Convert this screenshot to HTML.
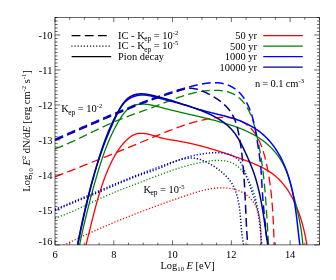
<!DOCTYPE html><html><head><meta charset="utf-8"><title>plot</title><style>html,body{margin:0;padding:0;background:#fff}svg{display:block;will-change:transform}text{font-family:"Liberation Serif",serif;fill:#000}</style></head><body>
<svg width="336" height="280" viewBox="0 0 336 280">
<rect width="336" height="280" fill="#fff"/>
<defs><clipPath id="c"><rect x="55.0" y="17.5" width="264.50" height="227.40"/></clipPath></defs>
<g clip-path="url(#c)" fill="none" stroke-width="1.3" stroke-linejoin="round">
<path d="M85.95 244.98 L86.13 244.31 L86.30 243.63 L86.48 242.96 L86.66 242.28 L86.83 241.61 L87.00 240.93 L87.18 240.25 L87.35 239.58 L87.52 238.90 L87.69 238.22 L87.87 237.54 L88.04 236.87 L88.21 236.19 L88.38 235.51 L88.55 234.83 L88.72 234.15 L88.89 233.47 L89.06 232.79 L89.23 232.11 L89.39 231.43 L89.56 230.75 L89.73 230.07 L89.90 229.39 L90.07 228.71 L90.24 228.03 L90.40 227.35 L90.57 226.66 L90.74 225.98 L90.91 225.30 L91.08 224.62 L91.25 223.94 L91.41 223.26 L91.58 222.58 L91.75 221.90 L91.92 221.21 L92.09 220.53 L92.26 219.85 L92.43 219.17 L92.60 218.49 L92.77 217.81 L92.94 217.13 L93.11 216.45 L93.29 215.77 L93.46 215.09 L93.63 214.40 L93.81 213.72 L93.98 213.04 L94.15 212.36 L94.33 211.68 L94.51 211.00 L94.68 210.32 L94.86 209.65 L95.04 208.97 L95.22 208.29 L95.40 207.61 L95.58 206.93 L95.76 206.25 L95.94 205.57 L96.13 204.90 L96.31 204.22 L96.50 203.54 L96.68 202.87 L96.87 202.19 L97.06 201.52 L97.25 200.84 L97.44 200.16 L97.63 199.49 L97.82 198.82 L98.02 198.14 L98.21 197.47 L98.41 196.80 L98.61 196.12 L98.81 195.45 L99.01 194.78 L99.21 194.11 L99.41 193.44 L99.62 192.77 L99.82 192.10 L100.03 191.43 L100.24 190.76 L100.45 190.09 L100.67 189.43 L100.88 188.76 L101.10 188.09 L101.31 187.43 L101.53 186.76 L101.75 186.10 L101.98 185.44 L102.20 184.77 L102.43 184.11 L102.65 183.45 L102.88 182.79 L103.12 182.13 L103.35 181.47 L103.58 180.81 L103.82 180.16 L104.06 179.50 L104.30 178.84 L104.55 178.19 L104.79 177.53 L105.04 176.88 L105.29 176.23 L105.54 175.57 L105.80 174.92 L106.06 174.27 L106.31 173.62 L106.58 172.97 L106.84 172.33 L107.11 171.68 L107.37 171.03 L107.64 170.39 L107.92 169.74 L108.19 169.10 L108.47 168.46 L108.75 167.82 L109.04 167.18 L109.32 166.54 L109.61 165.90 L109.90 165.26 L110.19 164.63 L110.49 163.99 L110.79 163.36 L111.09 162.73 L111.40 162.10 L111.71 161.47 L112.02 160.84 L112.34 160.22 L112.66 159.59 L112.98 158.97 L113.31 158.35 L113.64 157.73 L113.98 157.12 L114.32 156.51 L114.66 155.90 L115.01 155.29 L115.36 154.68 L115.72 154.08 L116.08 153.48 L116.45 152.88 L116.82 152.29 L117.20 151.70 L117.58 151.11 L117.97 150.52 L118.36 149.94 L118.76 149.36 L119.17 148.79 L119.58 148.22 L120.00 147.65 L120.42 147.09 L120.85 146.53 L121.28 145.97 L121.73 145.42 L122.17 144.87 L122.63 144.33 L123.09 143.79 L123.56 143.26 L124.03 142.73 L124.52 142.20 L125.01 141.68 L125.50 141.17 L126.01 140.66 L126.52 140.15 L127.04 139.66 L127.57 139.17 L128.10 138.69 L128.64 138.23 L129.19 137.78 L129.75 137.34 L130.31 136.92 L130.89 136.52 L131.46 136.13 L132.05 135.77 L132.65 135.43 L133.25 135.11 L133.86 134.81 L134.47 134.54 L135.10 134.29 L135.73 134.07 L136.37 133.89 L137.02 133.72 L137.67 133.59 L138.33 133.49 L139.00 133.40 L139.67 133.35 L140.34 133.31 L141.02 133.30 L141.70 133.30 L142.39 133.33 L143.08 133.38 L143.77 133.44 L144.46 133.52 L145.15 133.61 L145.84 133.72 L146.53 133.84 L147.22 133.97 L147.91 134.11 L148.60 134.26 L149.29 134.42 L149.97 134.59 L150.65 134.77 L151.33 134.95 L152.01 135.14 L152.69 135.33 L153.37 135.52 L154.05 135.72 L154.72 135.93 L155.40 136.13 L156.08 136.34 L156.75 136.54 L157.43 136.75 L158.11 136.95 L158.78 137.16 L159.46 137.36 L160.14 137.56 L160.82 137.75 L161.50 137.94 L162.19 138.12 L162.87 138.30 L163.56 138.47 L164.24 138.63 L164.93 138.79 L165.63 138.94 L166.32 139.08 L167.02 139.21 L167.71 139.34 L168.41 139.46 L169.11 139.58 L169.81 139.70 L170.51 139.81 L171.21 139.92 L171.91 140.03 L172.61 140.14 L173.31 140.24 L174.01 140.35 L174.71 140.46 L175.41 140.57 L176.11 140.68 L176.81 140.79 L177.50 140.91 L178.20 141.02 L178.89 141.14 L179.58 141.27 L180.27 141.39 L180.96 141.51 L181.66 141.64 L182.34 141.77 L183.03 141.90 L183.72 142.03 L184.41 142.17 L185.09 142.30 L185.78 142.44 L186.46 142.58 L187.15 142.72 L187.83 142.87 L188.51 143.01 L189.19 143.16 L189.87 143.31 L190.55 143.46 L191.23 143.61 L191.91 143.76 L192.59 143.92 L193.27 144.08 L193.94 144.23 L194.62 144.40 L195.29 144.56 L195.97 144.72 L196.64 144.89 L197.32 145.05 L197.99 145.22 L198.66 145.39 L199.34 145.56 L200.01 145.74 L200.68 145.91 L201.35 146.09 L202.02 146.26 L202.69 146.44 L203.36 146.62 L204.03 146.81 L204.70 146.99 L205.37 147.17 L206.03 147.36 L206.70 147.55 L207.37 147.74 L208.03 147.93 L208.70 148.12 L209.37 148.31 L210.03 148.51 L210.70 148.70 L211.36 148.90 L212.03 149.10 L212.69 149.30 L213.36 149.50 L214.02 149.70 L214.69 149.91 L215.35 150.11 L216.02 150.32 L216.68 150.52 L217.34 150.73 L218.01 150.94 L218.67 151.15 L219.33 151.37 L220.00 151.58 L220.66 151.79 L221.32 152.01 L221.99 152.23 L222.65 152.44 L223.31 152.66 L223.97 152.88 L224.64 153.10 L225.30 153.32 L225.96 153.55 L226.63 153.77 L227.29 154.00 L227.95 154.22 L228.62 154.45 L229.28 154.68 L229.94 154.91 L230.61 155.14 L231.27 155.37 L231.93 155.60 L232.60 155.83 L233.26 156.06 L233.93 156.30 L234.59 156.53 L235.26 156.77 L235.92 157.01 L236.59 157.24 L237.25 157.48 L237.92 157.72 L238.59 157.96 L239.25 158.20 L239.92 158.45 L240.59 158.69 L241.26 158.93 L241.92 159.18 L242.59 159.42 L243.26 159.67 L243.93 159.91 L244.60 160.16 L245.27 160.41 L245.94 160.65 L246.61 160.90 L247.28 161.16 L247.95 161.41 L248.62 161.66 L249.29 161.92 L249.96 162.17 L250.62 162.43 L251.29 162.70 L251.95 162.96 L252.62 163.22 L253.28 163.49 L253.94 163.76 L254.60 164.04 L255.26 164.31 L255.91 164.59 L256.57 164.87 L257.22 165.16 L257.87 165.45 L258.51 165.74 L259.16 166.04 L259.80 166.34 L260.44 166.64 L261.07 166.95 L261.70 167.26 L262.33 167.57 L262.96 167.89 L263.58 168.22 L264.20 168.55 L264.81 168.88 L265.43 169.22 L266.03 169.56 L266.64 169.91 L267.23 170.26 L267.83 170.62 L268.42 170.99 L269.00 171.36 L269.58 171.73 L270.16 172.11 L270.73 172.50 L271.30 172.90 L271.86 173.30 L272.41 173.70 L272.96 174.12 L273.50 174.53 L274.04 174.96 L274.57 175.39 L275.10 175.83 L275.62 176.27 L276.14 176.72 L276.65 177.18 L277.16 177.64 L277.66 178.11 L278.15 178.58 L278.64 179.06 L279.13 179.54 L279.61 180.03 L280.08 180.53 L280.55 181.03 L281.02 181.53 L281.48 182.04 L281.93 182.56 L282.38 183.08 L282.83 183.60 L283.27 184.13 L283.70 184.67 L284.13 185.21 L284.56 185.75 L284.98 186.30 L285.39 186.85 L285.80 187.41 L286.21 187.97 L286.61 188.54 L287.01 189.11 L287.40 189.68 L287.79 190.26 L288.17 190.84 L288.55 191.43 L288.93 192.02 L289.30 192.61 L289.66 193.21 L290.02 193.81 L290.38 194.41 L290.73 195.02 L291.08 195.63 L291.42 196.25 L291.76 196.86 L292.10 197.48 L292.43 198.11 L292.76 198.73 L293.08 199.36 L293.40 200.00 L293.71 200.63 L294.02 201.27 L294.33 201.91 L294.63 202.55 L294.93 203.20 L295.23 203.84 L295.52 204.49 L295.80 205.15 L296.09 205.80 L296.37 206.46 L296.64 207.11 L296.91 207.77 L297.18 208.44 L297.44 209.10 L297.70 209.77 L297.96 210.43 L298.21 211.10 L298.46 211.77 L298.71 212.44 L298.95 213.12 L299.19 213.79 L299.43 214.47 L299.66 215.14 L299.89 215.82 L300.11 216.50 L300.33 217.18 L300.55 217.86 L300.77 218.54 L300.98 219.22 L301.19 219.90 L301.39 220.58 L301.59 221.27 L301.79 221.95 L301.99 222.63 L302.18 223.32 L302.37 224.00 L302.56 224.68 L302.74 225.37 L302.92 226.05 L303.10 226.73 L303.28 227.42 L303.45 228.10 L303.62 228.78 L303.78 229.46 L303.95 230.15 L304.11 230.83 L304.26 231.51 L304.42 232.19 L304.57 232.86 L304.72 233.54 L304.87 234.22 L305.01 234.89 L305.15 235.57 L305.29 236.24 L305.43 236.91 L305.56 237.58 L305.70 238.25 L305.83 238.92 L305.95 239.59 L306.08 240.25 L306.20 240.91 L306.32 241.57 L306.44 242.23 L306.55 242.89 L306.66 243.54 L306.78 244.20 L306.88 244.85" stroke="#ff0000" />
<path d="M55.00 176.80 L55.62 176.56 L56.24 176.32 L56.85 176.08 L57.47 175.84 L58.09 175.60 L58.71 175.36 L59.32 175.12 L59.94 174.88 L60.56 174.64 L61.17 174.40 L61.79 174.16 L62.41 173.92 L63.02 173.68 L63.64 173.44 L64.26 173.20 L64.87 172.96 L65.49 172.72 L66.11 172.48 L66.72 172.24 L67.34 172.00 L67.96 171.75 L68.57 171.51 L69.19 171.27 L69.81 171.03 L70.42 170.79 L71.04 170.54 L71.65 170.30 L72.27 170.06 L72.89 169.82 L73.50 169.57 L74.12 169.33 L74.74 169.09 L75.35 168.85 L75.97 168.60 L76.58 168.36 L77.20 168.12 L77.82 167.87 L78.43 167.63 L79.05 167.38 L79.66 167.14 L80.28 166.90 L80.90 166.65 L81.51 166.41 L82.13 166.16 L82.74 165.92 L83.36 165.68 L83.97 165.43 L84.59 165.19 L85.20 164.94 L85.82 164.70 L86.44 164.45 L87.05 164.21 L87.67 163.96 L88.28 163.71 L88.90 163.47 L89.51 163.22 L90.13 162.98 L90.74 162.73 L91.36 162.49 L91.97 162.24 L92.59 161.99 L93.20 161.75 L93.82 161.50 L94.44 161.25 L95.05 161.01 L95.67 160.76 L96.28 160.51 L96.90 160.27 L97.51 160.02 L98.13 159.77 L98.74 159.52 L99.35 159.28 L99.97 159.03 L100.58 158.78 L101.20 158.53 L101.81 158.29 L102.43 158.04 L103.04 157.79 L103.66 157.54 L104.27 157.30 L104.89 157.05 L105.50 156.80 L106.12 156.55 L106.73 156.30 L107.34 156.05 L107.96 155.80 L108.57 155.56 L109.19 155.31 L109.80 155.06 L110.42 154.81 L111.03 154.56 L111.64 154.31 L112.26 154.06 L112.87 153.81 L113.49 153.56 L114.10 153.31 L114.71 153.06 L115.33 152.81 L115.94 152.56 L116.56 152.31 L117.17 152.07 L117.78 151.82 L118.40 151.57 L119.01 151.32 L119.63 151.06 L120.24 150.81 L120.85 150.56 L121.47 150.31 L122.08 150.06 L122.69 149.81 L123.31 149.56 L123.92 149.31 L124.53 149.06 L125.15 148.81 L125.76 148.56 L126.37 148.31 L126.99 148.06 L127.60 147.81 L128.21 147.55 L128.83 147.30 L129.44 147.05 L130.05 146.80 L130.67 146.55 L131.28 146.30 L131.89 146.05 L132.50 145.80 L133.12 145.54 L133.73 145.29 L134.34 145.04 L134.96 144.79 L135.57 144.54 L136.18 144.28 L136.79 144.03 L137.41 143.78 L138.02 143.53 L138.63 143.28 L139.24 143.02 L139.86 142.77 L140.47 142.52 L141.08 142.27 L141.69 142.01 L142.31 141.76 L142.92 141.51 L143.53 141.26 L144.14 141.00 L144.75 140.75 L145.37 140.50 L145.98 140.25 L146.59 139.99 L147.20 139.74 L147.81 139.49 L148.43 139.23 L149.04 138.98 L149.65 138.73 L150.26 138.48 L150.87 138.22 L151.48 137.97 L152.10 137.72 L152.71 137.46 L153.32 137.21 L153.93 136.96 L154.54 136.70 L155.15 136.45 L155.77 136.20 L156.38 135.94 L156.99 135.69 L157.60 135.44 L158.21 135.19 L158.82 134.93 L159.43 134.68 L160.05 134.43 L160.66 134.18 L161.27 133.93 L161.88 133.68 L162.49 133.43 L163.11 133.18 L163.72 132.93 L164.33 132.68 L164.95 132.43 L165.56 132.18 L166.17 131.93 L166.79 131.69 L167.40 131.44 L168.01 131.20 L168.63 130.96 L169.24 130.71 L169.86 130.47 L170.47 130.23 L171.09 129.99 L171.70 129.75 L172.32 129.51 L172.94 129.28 L173.56 129.04 L174.17 128.80 L174.79 128.57 L175.41 128.34 L176.03 128.11 L176.65 127.88 L177.27 127.65 L177.89 127.42 L178.51 127.20 L179.13 126.97 L179.75 126.75 L180.37 126.53 L181.00 126.31 L181.62 126.09 L182.24 125.88 L182.87 125.66 L183.49 125.45 L184.12 125.24 L184.75 125.03 L185.37 124.82 L186.00 124.61 L186.63 124.41 L187.26 124.21 L187.89 124.01 L188.52 123.81 L189.15 123.61 L189.78 123.42 L190.42 123.23 L191.05 123.04 L191.68 122.85 L192.32 122.67 L192.95 122.48 L193.59 122.30 L194.23 122.12 L194.87 121.95 L195.51 121.77 L196.15 121.60 L196.79 121.44 L197.43 121.27 L198.07 121.11 L198.72 120.94 L199.36 120.79 L200.01 120.63 L200.66 120.48 L201.30 120.33 L201.95 120.18 L202.60 120.04 L203.25 119.89 L203.91 119.75 L204.56 119.62 L205.21 119.49 L205.87 119.36 L206.52 119.23 L207.18 119.10 L207.84 118.98 L208.50 118.87 L209.16 118.75 L209.82 118.64 L210.49 118.53 L211.15 118.43 L211.82 118.33 L212.48 118.23 L213.15 118.14 L213.82 118.05 L214.49 117.96 L215.16 117.88 L215.83 117.80 L216.50 117.73 L217.17 117.67 L217.84 117.61 L218.51 117.56 L219.18 117.51 L219.85 117.47 L220.52 117.43 L221.18 117.40 L221.85 117.38 L222.52 117.37 L223.18 117.36 L223.85 117.36 L224.51 117.37 L225.18 117.39 L225.84 117.42 L226.50 117.45 L227.15 117.49 L227.81 117.55 L228.46 117.61 L229.12 117.68 L229.76 117.76 L230.41 117.85 L231.06 117.95 L231.70 118.06 L232.34 118.19 L232.98 118.32 L233.61 118.46 L234.24 118.62 L234.87 118.79 L235.49 118.97 L236.12 119.16 L236.73 119.36 L237.35 119.58 L237.96 119.81 L238.56 120.05 L239.17 120.30 L239.76 120.57 L240.36 120.85 L240.94 121.13 L241.53 121.43 L242.11 121.74 L242.68 122.06 L243.25 122.40 L243.81 122.74 L244.37 123.09 L244.92 123.45 L245.46 123.83 L246.00 124.21 L246.53 124.60 L247.06 125.01 L247.58 125.42 L248.09 125.84 L248.59 126.27 L249.09 126.71 L249.58 127.16 L250.06 127.61 L250.54 128.08 L251.00 128.55 L251.46 129.03 L251.91 129.52 L252.35 130.01 L252.78 130.52 L253.21 131.03 L253.62 131.55 L254.03 132.07 L254.43 132.60 L254.81 133.14 L255.19 133.69 L255.56 134.24 L255.92 134.79 L256.28 135.35 L256.62 135.92 L256.96 136.49 L257.29 137.07 L257.61 137.65 L257.92 138.24 L258.23 138.83 L258.53 139.42 L258.82 140.02 L259.11 140.62 L259.39 141.22 L259.67 141.83 L259.94 142.44 L260.20 143.05 L260.46 143.66 L260.72 144.27 L260.96 144.89 L261.21 145.51 L261.44 146.13 L261.68 146.76 L261.90 147.38 L262.13 148.01 L262.35 148.64 L262.56 149.27 L262.77 149.90 L262.98 150.53 L263.18 151.17 L263.37 151.81 L263.57 152.44 L263.76 153.08 L263.94 153.72 L264.13 154.36 L264.31 155.01 L264.48 155.65 L264.66 156.29 L264.83 156.94 L264.99 157.58 L265.16 158.23 L265.32 158.88 L265.48 159.52 L265.64 160.17 L265.79 160.82 L265.94 161.47 L266.09 162.12 L266.24 162.76 L266.39 163.41 L266.53 164.06 L266.67 164.71 L266.81 165.36 L266.95 166.01 L267.09 166.66 L267.22 167.31 L267.35 167.96 L267.48 168.61 L267.61 169.26 L267.74 169.91 L267.86 170.56 L267.99 171.21 L268.11 171.86 L268.23 172.51 L268.35 173.17 L268.46 173.82 L268.58 174.47 L268.69 175.12 L268.80 175.77 L268.91 176.43 L269.01 177.08 L269.12 177.73 L269.22 178.38 L269.33 179.04 L269.43 179.69 L269.53 180.34 L269.62 181.00 L269.72 181.65 L269.81 182.30 L269.91 182.96 L270.00 183.61 L270.09 184.27 L270.18 184.92 L270.26 185.57 L270.35 186.23 L270.43 186.88 L270.51 187.54 L270.60 188.19 L270.68 188.85 L270.75 189.51 L270.83 190.16 L270.91 190.82 L270.98 191.47 L271.05 192.13 L271.13 192.79 L271.20 193.44 L271.27 194.10 L271.34 194.76 L271.40 195.41 L271.47 196.07 L271.53 196.73 L271.60 197.38 L271.66 198.04 L271.72 198.70 L271.78 199.36 L271.84 200.01 L271.90 200.67 L271.95 201.33 L272.01 201.99 L272.06 202.65 L272.12 203.30 L272.17 203.96 L272.22 204.62 L272.27 205.28 L272.32 205.94 L272.37 206.60 L272.42 207.26 L272.47 207.92 L272.51 208.58 L272.56 209.24 L272.60 209.90 L272.65 210.56 L272.69 211.22 L272.73 211.88 L272.77 212.54 L272.82 213.20 L272.86 213.86 L272.89 214.52 L272.93 215.18 L272.97 215.84 L273.01 216.50 L273.04 217.16 L273.08 217.82 L273.12 218.49 L273.15 219.15 L273.18 219.81 L273.22 220.47 L273.25 221.13 L273.28 221.79 L273.32 222.46 L273.35 223.12 L273.38 223.78 L273.41 224.44 L273.44 225.10 L273.47 225.77 L273.50 226.43 L273.53 227.09 L273.55 227.75 L273.58 228.42 L273.61 229.08 L273.64 229.74 L273.66 230.41 L273.69 231.07 L273.72 231.73 L273.74 232.40 L273.77 233.06 L273.80 233.72 L273.82 234.39 L273.85 235.05 L273.87 235.72 L273.90 236.38 L273.92 237.04 L273.95 237.71 L273.97 238.37 L274.00 239.04 L274.02 239.70 L274.04 240.37 L274.07 241.03 L274.09 241.69 L274.12 242.36 L274.14 243.02 L274.17 243.69 L274.19 244.35 L274.21 245.02" stroke="#ff0000" stroke-dasharray="8.8 4.3"/>
<path d="M57.96 248.10 L58.42 247.87 L58.88 247.63 L59.34 247.40 L59.80 247.17 L60.26 246.94 L60.73 246.71 L61.19 246.48 L61.65 246.25 L62.11 246.02 L62.57 245.79 L63.04 245.56 L63.50 245.34 L63.96 245.11 L64.42 244.88 L64.88 244.65 L65.35 244.43 L65.81 244.20 L66.27 243.98 L66.73 243.75 L67.20 243.52 L67.66 243.30 L68.12 243.07 L68.59 242.85 L69.05 242.63 L69.51 242.40 L69.97 242.18 L70.44 241.96 L70.90 241.73 L71.36 241.51 L71.83 241.29 L72.29 241.07 L72.75 240.85 L73.22 240.63 L73.68 240.40 L74.14 240.18 L74.61 239.96 L75.07 239.74 L75.53 239.53 L76.00 239.31 L76.46 239.09 L76.92 238.87 L77.39 238.65 L77.85 238.43 L78.31 238.22 L78.78 238.00 L79.24 237.78 L79.71 237.57 L80.17 237.35 L80.64 237.13 L81.10 236.92 L81.56 236.70 L82.03 236.49 L82.49 236.27 L82.96 236.06 L83.42 235.85 L83.89 235.63 L84.35 235.42 L84.82 235.21 L85.28 234.99 L85.75 234.78 L86.21 234.57 L86.68 234.36 L87.14 234.15 L87.61 233.94 L88.07 233.73 L88.54 233.51 L89.00 233.30 L89.47 233.09 L89.94 232.88 L90.40 232.68 L90.87 232.47 L91.33 232.26 L91.80 232.05 L92.27 231.84 L92.73 231.63 L93.20 231.43 L93.66 231.22 L94.13 231.01 L94.60 230.81 L95.06 230.60 L95.53 230.39 L96.00 230.19 L96.46 229.98 L96.93 229.78 L97.40 229.57 L97.86 229.37 L98.33 229.16 L98.80 228.96 L99.27 228.76 L99.73 228.55 L100.20 228.35 L100.67 228.15 L101.14 227.94 L101.60 227.74 L102.07 227.54 L102.54 227.34 L103.01 227.14 L103.48 226.93 L103.94 226.73 L104.41 226.53 L104.88 226.33 L105.35 226.13 L105.82 225.93 L106.29 225.73 L106.75 225.53 L107.22 225.33 L107.69 225.14 L108.16 224.94 L108.63 224.74 L109.10 224.54 L109.57 224.34 L110.04 224.15 L110.51 223.95 L110.98 223.75 L111.45 223.56 L111.92 223.36 L112.39 223.16 L112.86 222.97 L113.33 222.77 L113.80 222.58 L114.27 222.38 L114.74 222.19 L115.21 221.99 L115.68 221.80 L116.15 221.60 L116.62 221.41 L117.09 221.22 L117.56 221.02 L118.03 220.83 L118.50 220.64 L118.97 220.44 L119.45 220.25 L119.92 220.06 L120.39 219.87 L120.86 219.68 L121.33 219.48 L121.80 219.29 L122.28 219.10 L122.75 218.91 L123.22 218.72 L123.69 218.53 L124.17 218.34 L124.64 218.15 L125.11 217.96 L125.58 217.77 L126.06 217.58 L126.53 217.40 L127.00 217.21 L127.48 217.02 L127.95 216.83 L128.42 216.64 L128.90 216.46 L129.37 216.27 L129.84 216.08 L130.32 215.89 L130.79 215.71 L131.27 215.52 L131.74 215.33 L132.21 215.15 L132.69 214.96 L133.16 214.78 L133.64 214.59 L134.11 214.41 L134.59 214.22 L135.06 214.04 L135.54 213.85 L136.01 213.67 L136.49 213.48 L136.96 213.30 L137.44 213.12 L137.92 212.93 L138.39 212.75 L138.87 212.57 L139.34 212.38 L139.82 212.20 L140.30 212.02 L140.77 211.84 L141.25 211.66 L141.73 211.47 L142.20 211.29 L142.68 211.11 L143.16 210.93 L143.63 210.75 L144.11 210.57 L144.59 210.39 L145.07 210.21 L145.55 210.03 L146.02 209.85 L146.50 209.67 L146.98 209.49 L147.46 209.31 L147.94 209.13 L148.41 208.95 L148.89 208.77 L149.37 208.59 L149.85 208.42 L150.33 208.24 L150.81 208.06 L151.29 207.88 L151.77 207.70 L152.25 207.53 L152.73 207.35 L153.21 207.17 L153.69 207.00 L154.17 206.82 L154.65 206.64 L155.13 206.47 L155.61 206.29 L156.09 206.11 L156.57 205.94 L157.05 205.76 L157.53 205.59 L158.01 205.41 L158.50 205.24 L158.98 205.06 L159.46 204.89 L159.94 204.71 L160.42 204.54 L160.91 204.36 L161.39 204.19 L161.87 204.02 L162.35 203.84 L162.84 203.67 L163.32 203.50 L163.80 203.32 L164.28 203.15 L164.77 202.98 L165.25 202.80 L165.74 202.63 L166.22 202.46 L166.70 202.29 L167.19 202.11 L167.67 201.94 L168.16 201.77 L168.64 201.60 L169.13 201.43 L169.61 201.26 L170.09 201.09 L170.58 200.91 L171.07 200.74 L171.55 200.57 L172.04 200.40 L172.52 200.23 L173.01 200.06 L173.49 199.89 L173.98 199.72 L174.47 199.55 L174.95 199.38 L175.44 199.21 L175.93 199.04 L176.41 198.87 L176.90 198.71 L177.39 198.54 L177.88 198.37 L178.36 198.20 L178.85 198.03 L179.34 197.86 L179.83 197.69 L180.32 197.53 L180.80 197.36 L181.29 197.19 L181.78 197.02 L182.27 196.86 L182.76 196.69 L183.25 196.52 L183.74 196.35 L184.23 196.19 L184.72 196.02 L185.21 195.85 L185.70 195.69 L186.19 195.52 L186.68 195.35 L187.17 195.19 L187.66 195.02 L188.15 194.86 L188.64 194.69 L189.13 194.53 L189.63 194.37 L190.12 194.20 L190.61 194.04 L191.10 193.88 L191.59 193.72 L192.09 193.56 L192.58 193.40 L193.07 193.24 L193.56 193.09 L194.06 192.93 L194.55 192.78 L195.04 192.63 L195.54 192.47 L196.03 192.32 L196.53 192.18 L197.02 192.03 L197.52 191.88 L198.01 191.74 L198.51 191.60 L199.00 191.46 L199.50 191.32 L199.99 191.18 L200.49 191.05 L200.99 190.91 L201.48 190.78 L201.98 190.65 L202.48 190.52 L202.97 190.40 L203.47 190.28 L203.97 190.16 L204.47 190.04 L204.97 189.92 L205.46 189.81 L205.96 189.70 L206.46 189.59 L206.96 189.49 L207.46 189.38 L207.96 189.28 L208.46 189.19 L208.96 189.09 L209.46 189.00 L209.96 188.91 L210.46 188.83 L210.96 188.74 L211.47 188.66 L211.97 188.59 L212.47 188.52 L212.97 188.45 L213.48 188.38 L213.98 188.32 L214.48 188.26 L214.99 188.20 L215.49 188.15 L215.99 188.10 L216.50 188.06 L217.00 188.02 L217.51 187.98 L218.01 187.95 L218.52 187.92 L219.02 187.89 L219.53 187.87 L220.04 187.86 L220.54 187.84 L221.05 187.83 L221.56 187.83 L222.07 187.83 L222.58 187.84 L223.08 187.84 L223.59 187.86 L224.10 187.88 L224.61 187.90 L225.12 187.93 L225.63 187.96 L226.14 188.00 L226.65 188.04 L227.16 188.09 L227.67 188.14 L228.18 188.19 L228.69 188.26 L229.20 188.32 L229.71 188.40 L230.22 188.48 L230.73 188.56 L231.24 188.65 L231.74 188.74 L232.25 188.84 L232.75 188.95 L233.25 189.06 L233.75 189.17 L234.25 189.30 L234.74 189.42 L235.24 189.56 L235.73 189.70 L236.22 189.84 L236.71 190.00 L237.19 190.16 L237.67 190.32 L238.15 190.49 L238.63 190.67 L239.10 190.85 L239.57 191.04 L240.04 191.24 L240.50 191.44 L240.96 191.65 L241.42 191.87 L241.87 192.09 L242.32 192.32 L242.76 192.56 L243.20 192.80 L243.64 193.05 L244.07 193.31 L244.49 193.57 L244.92 193.84 L245.33 194.12 L245.74 194.41 L246.15 194.70 L246.55 195.00 L246.95 195.31 L247.34 195.62 L247.72 195.94 L248.10 196.27 L248.48 196.60 L248.85 196.94 L249.21 197.29 L249.57 197.64 L249.92 198.00 L250.27 198.37 L250.61 198.74 L250.95 199.11 L251.28 199.49 L251.61 199.88 L251.93 200.27 L252.24 200.67 L252.55 201.07 L252.85 201.48 L253.15 201.89 L253.44 202.31 L253.72 202.73 L254.00 203.16 L254.27 203.59 L254.54 204.03 L254.80 204.47 L255.05 204.91 L255.30 205.36 L255.54 205.81 L255.78 206.27 L256.01 206.73 L256.23 207.19 L256.45 207.66 L256.66 208.13 L256.87 208.60 L257.06 209.08 L257.25 209.56 L257.44 210.04 L257.62 210.53 L257.79 211.02 L257.95 211.51 L258.11 212.00 L258.27 212.50 L258.41 213.00 L258.55 213.50 L258.69 214.00 L258.82 214.51 L258.95 215.01 L259.06 215.52 L259.18 216.03 L259.29 216.55 L259.39 217.06 L259.49 217.58 L259.59 218.09 L259.68 218.61 L259.76 219.13 L259.84 219.65 L259.92 220.18 L259.99 220.70 L260.06 221.22 L260.13 221.75 L260.19 222.27 L260.25 222.80 L260.30 223.32 L260.35 223.85 L260.40 224.38 L260.45 224.90 L260.49 225.43 L260.53 225.96 L260.56 226.48 L260.60 227.01 L260.63 227.54 L260.66 228.06 L260.69 228.59 L260.71 229.11 L260.73 229.64 L260.75 230.16 L260.77 230.69 L260.79 231.21 L260.81 231.73 L260.82 232.25 L260.84 232.77 L260.85 233.28 L260.86 233.80 L260.87 234.31 L260.88 234.83 L260.89 235.34 L260.90 235.85 L260.91 236.35 L260.92 236.86 L260.93 237.36 L260.94 237.86 L260.95 238.36 L260.96 238.86 L260.97 239.35 L260.98 239.84 L260.99 240.33 L261.00 240.82 L261.01 241.30 L261.03 241.78 L261.04 242.26 L261.06 242.73 L261.08 243.20 L261.10 243.67 L261.12 244.13 L261.14 244.59" stroke="#ff0000" stroke-dasharray="1.2 1.9"/>
<path d="M72.26 280.92 L72.43 280.06 L72.60 279.19 L72.77 278.32 L72.94 277.46 L73.11 276.59 L73.28 275.72 L73.45 274.86 L73.62 273.99 L73.79 273.13 L73.96 272.26 L74.13 271.40 L74.30 270.53 L74.47 269.66 L74.65 268.80 L74.82 267.93 L74.99 267.07 L75.16 266.20 L75.34 265.34 L75.51 264.47 L75.69 263.61 L75.86 262.75 L76.04 261.88 L76.21 261.02 L76.39 260.15 L76.56 259.29 L76.74 258.42 L76.92 257.56 L77.09 256.70 L77.27 255.83 L77.45 254.97 L77.63 254.11 L77.81 253.24 L77.99 252.38 L78.17 251.52 L78.35 250.66 L78.53 249.79 L78.71 248.93 L78.89 248.07 L79.08 247.21 L79.26 246.35 L79.44 245.48 L79.63 244.62 L79.81 243.76 L80.00 242.90 L80.18 242.04 L80.37 241.18 L80.56 240.32 L80.74 239.46 L80.93 238.60 L81.12 237.74 L81.31 236.88 L81.50 236.02 L81.69 235.16 L81.88 234.30 L82.07 233.44 L82.26 232.58 L82.46 231.72 L82.65 230.86 L82.84 230.00 L83.04 229.14 L83.23 228.28 L83.43 227.42 L83.63 226.57 L83.82 225.71 L84.02 224.85 L84.22 223.99 L84.42 223.13 L84.62 222.28 L84.82 221.42 L85.02 220.56 L85.22 219.71 L85.43 218.85 L85.63 217.99 L85.84 217.14 L86.04 216.28 L86.25 215.43 L86.45 214.57 L86.66 213.71 L86.87 212.86 L87.08 212.00 L87.29 211.15 L87.50 210.29 L87.71 209.44 L87.92 208.59 L88.13 207.73 L88.35 206.88 L88.56 206.02 L88.78 205.17 L88.99 204.32 L89.21 203.46 L89.43 202.61 L89.65 201.76 L89.87 200.91 L90.09 200.05 L90.31 199.20 L90.53 198.35 L90.76 197.50 L90.98 196.65 L91.21 195.80 L91.43 194.95 L91.66 194.10 L91.89 193.24 L92.12 192.39 L92.35 191.54 L92.58 190.69 L92.81 189.85 L93.04 189.00 L93.27 188.15 L93.51 187.30 L93.75 186.45 L93.98 185.60 L94.22 184.75 L94.46 183.90 L94.70 183.06 L94.94 182.21 L95.18 181.36 L95.42 180.52 L95.67 179.67 L95.91 178.82 L96.16 177.98 L96.40 177.13 L96.65 176.28 L96.90 175.44 L97.15 174.59 L97.40 173.75 L97.66 172.90 L97.91 172.06 L98.16 171.21 L98.42 170.37 L98.68 169.53 L98.93 168.68 L99.19 167.84 L99.45 167.00 L99.72 166.16 L99.98 165.31 L100.25 164.47 L100.52 163.63 L100.78 162.79 L101.06 161.95 L101.33 161.12 L101.60 160.28 L101.88 159.44 L102.16 158.60 L102.44 157.77 L102.73 156.93 L103.01 156.10 L103.30 155.27 L103.59 154.43 L103.89 153.60 L104.18 152.77 L104.48 151.94 L104.78 151.11 L105.09 150.29 L105.40 149.46 L105.71 148.64 L106.02 147.81 L106.34 146.99 L106.66 146.17 L106.98 145.35 L107.31 144.53 L107.64 143.71 L107.97 142.90 L108.31 142.08 L108.65 141.27 L108.99 140.46 L109.34 139.65 L109.69 138.84 L110.04 138.03 L110.40 137.23 L110.77 136.42 L111.13 135.62 L111.51 134.82 L111.88 134.02 L112.26 133.22 L112.65 132.43 L113.03 131.64 L113.43 130.84 L113.83 130.05 L114.23 129.27 L114.63 128.48 L115.05 127.70 L115.46 126.92 L115.88 126.14 L116.31 125.36 L116.74 124.58 L117.18 123.81 L117.62 123.04 L118.07 122.27 L118.52 121.51 L118.98 120.74 L119.44 119.98 L119.91 119.22 L120.38 118.46 L120.86 117.71 L121.35 116.96 L121.85 116.22 L122.35 115.48 L122.86 114.76 L123.38 114.04 L123.91 113.34 L124.46 112.65 L125.02 111.98 L125.59 111.33 L126.17 110.70 L126.77 110.08 L127.38 109.49 L128.02 108.93 L128.66 108.39 L129.33 107.87 L130.02 107.39 L130.72 106.94 L131.45 106.52 L132.20 106.14 L132.97 105.79 L133.76 105.47 L134.57 105.20 L135.40 104.95 L136.24 104.74 L137.09 104.56 L137.96 104.41 L138.83 104.29 L139.71 104.19 L140.59 104.13 L141.47 104.09 L142.35 104.08 L143.23 104.09 L144.11 104.12 L144.99 104.18 L145.87 104.25 L146.75 104.35 L147.63 104.46 L148.51 104.59 L149.39 104.73 L150.27 104.89 L151.15 105.06 L152.02 105.24 L152.90 105.44 L153.78 105.64 L154.65 105.85 L155.53 106.06 L156.40 106.28 L157.27 106.51 L158.15 106.74 L159.02 106.97 L159.89 107.20 L160.76 107.43 L161.63 107.66 L162.49 107.88 L163.36 108.11 L164.22 108.33 L165.09 108.55 L165.95 108.77 L166.82 108.99 L167.68 109.20 L168.54 109.42 L169.40 109.63 L170.26 109.84 L171.12 110.05 L171.98 110.26 L172.84 110.47 L173.69 110.68 L174.55 110.88 L175.41 111.09 L176.26 111.29 L177.12 111.49 L177.97 111.70 L178.82 111.90 L179.68 112.10 L180.53 112.30 L181.38 112.50 L182.23 112.70 L183.09 112.89 L183.94 113.09 L184.79 113.29 L185.64 113.49 L186.49 113.68 L187.34 113.88 L188.19 114.08 L189.04 114.27 L189.89 114.47 L190.74 114.66 L191.58 114.86 L192.43 115.06 L193.28 115.25 L194.13 115.45 L194.98 115.65 L195.83 115.85 L196.68 116.05 L197.53 116.24 L198.38 116.44 L199.22 116.64 L200.07 116.85 L200.92 117.05 L201.77 117.25 L202.62 117.45 L203.47 117.66 L204.32 117.86 L205.17 118.07 L206.02 118.27 L206.87 118.48 L207.72 118.69 L208.57 118.90 L209.43 119.12 L210.28 119.33 L211.13 119.54 L211.98 119.76 L212.84 119.98 L213.69 120.20 L214.55 120.42 L215.40 120.64 L216.26 120.87 L217.11 121.10 L217.97 121.32 L218.83 121.56 L219.68 121.79 L220.54 122.03 L221.39 122.26 L222.25 122.50 L223.11 122.75 L223.96 122.99 L224.82 123.24 L225.67 123.50 L226.52 123.75 L227.38 124.01 L228.23 124.27 L229.08 124.54 L229.93 124.81 L230.77 125.08 L231.62 125.36 L232.47 125.64 L233.31 125.92 L234.15 126.21 L234.99 126.50 L235.83 126.80 L236.66 127.10 L237.50 127.40 L238.33 127.72 L239.16 128.03 L239.98 128.35 L240.81 128.68 L241.63 129.01 L242.44 129.34 L243.26 129.68 L244.07 130.03 L244.88 130.38 L245.69 130.74 L246.49 131.10 L247.29 131.47 L248.08 131.84 L248.87 132.22 L249.66 132.61 L250.44 133.00 L251.22 133.40 L252.00 133.81 L252.77 134.22 L253.54 134.64 L254.30 135.06 L255.06 135.50 L255.81 135.93 L256.56 136.38 L257.31 136.84 L258.05 137.30 L258.78 137.77 L259.51 138.24 L260.23 138.73 L260.95 139.22 L261.66 139.72 L262.37 140.22 L263.07 140.74 L263.77 141.26 L264.46 141.79 L265.14 142.33 L265.82 142.88 L266.49 143.44 L267.15 144.01 L267.81 144.58 L268.46 145.17 L269.11 145.76 L269.75 146.36 L270.38 146.97 L271.00 147.59 L271.62 148.22 L272.23 148.86 L272.83 149.51 L273.43 150.17 L274.02 150.84 L274.60 151.52 L275.17 152.20 L275.73 152.89 L276.29 153.60 L276.83 154.30 L277.37 155.02 L277.90 155.75 L278.42 156.48 L278.93 157.21 L279.44 157.96 L279.93 158.71 L280.41 159.46 L280.88 160.23 L281.35 160.99 L281.80 161.76 L282.24 162.54 L282.67 163.32 L283.10 164.11 L283.51 164.90 L283.90 165.69 L284.29 166.49 L284.67 167.29 L285.04 168.09 L285.39 168.90 L285.73 169.71 L286.07 170.52 L286.39 171.34 L286.71 172.15 L287.02 172.97 L287.32 173.80 L287.61 174.62 L287.89 175.45 L288.17 176.27 L288.44 177.11 L288.71 177.94 L288.97 178.77 L289.22 179.61 L289.47 180.45 L289.72 181.28 L289.96 182.12 L290.20 182.97 L290.43 183.81 L290.66 184.65 L290.90 185.50 L291.13 186.34 L291.35 187.19 L291.58 188.03 L291.81 188.88 L292.04 189.73 L292.26 190.58 L292.49 191.43 L292.72 192.28 L292.94 193.13 L293.17 193.98 L293.39 194.83 L293.62 195.68 L293.84 196.53 L294.06 197.38 L294.28 198.24 L294.51 199.09 L294.73 199.94 L294.94 200.80 L295.16 201.65 L295.38 202.51 L295.59 203.36 L295.80 204.22 L296.02 205.08 L296.23 205.94 L296.44 206.79 L296.64 207.65 L296.85 208.51 L297.05 209.37 L297.25 210.23 L297.45 211.09 L297.65 211.95 L297.84 212.81 L298.04 213.67 L298.23 214.54 L298.42 215.40 L298.60 216.26 L298.78 217.13 L298.97 217.99 L299.14 218.85 L299.32 219.72 L299.49 220.58 L299.66 221.45 L299.83 222.32 L299.99 223.18 L300.15 224.05 L300.31 224.92 L300.47 225.79 L300.62 226.65 L300.76 227.52 L300.91 228.39 L301.05 229.26 L301.19 230.13 L301.32 231.00 L301.45 231.88 L301.58 232.75 L301.70 233.62 L301.82 234.49 L301.93 235.36 L302.04 236.24 L302.15 237.11 L302.25 237.99 L302.35 238.86 L302.44 239.73 L302.53 240.61 L302.61 241.49 L302.69 242.36 L302.77 243.24 L302.84 244.12 L302.91 244.99" stroke="#008000" />
<path d="M54.98 148.90 L55.63 148.65 L56.28 148.40 L56.93 148.15 L57.58 147.90 L58.23 147.64 L58.87 147.38 L59.52 147.12 L60.17 146.86 L60.81 146.60 L61.46 146.33 L62.10 146.06 L62.74 145.79 L63.39 145.52 L64.03 145.25 L64.67 144.97 L65.32 144.69 L65.96 144.42 L66.60 144.14 L67.24 143.86 L67.88 143.57 L68.52 143.29 L69.16 143.00 L69.80 142.71 L70.44 142.43 L71.08 142.14 L71.72 141.85 L72.35 141.55 L72.99 141.26 L73.63 140.97 L74.27 140.67 L74.91 140.37 L75.54 140.08 L76.18 139.78 L76.82 139.48 L77.45 139.18 L78.09 138.88 L78.72 138.57 L79.36 138.27 L79.99 137.97 L80.63 137.66 L81.26 137.36 L81.90 137.06 L82.53 136.75 L83.17 136.44 L83.80 136.14 L84.44 135.83 L85.07 135.52 L85.71 135.22 L86.34 134.91 L86.98 134.60 L87.61 134.29 L88.24 133.98 L88.88 133.67 L89.51 133.37 L90.15 133.06 L90.78 132.75 L91.42 132.44 L92.05 132.13 L92.68 131.82 L93.32 131.52 L93.95 131.21 L94.59 130.90 L95.22 130.59 L95.86 130.29 L96.49 129.98 L97.13 129.68 L97.76 129.37 L98.40 129.07 L99.03 128.76 L99.67 128.46 L100.30 128.16 L100.94 127.85 L101.57 127.55 L102.21 127.25 L102.85 126.95 L103.48 126.65 L104.12 126.36 L104.76 126.06 L105.40 125.76 L106.03 125.47 L106.67 125.17 L107.31 124.88 L107.95 124.59 L108.59 124.30 L109.23 124.01 L109.87 123.72 L110.51 123.44 L111.15 123.15 L111.79 122.87 L112.43 122.59 L113.07 122.31 L113.71 122.03 L114.35 121.75 L115.00 121.48 L115.64 121.20 L116.28 120.93 L116.93 120.66 L117.57 120.39 L118.22 120.13 L118.86 119.86 L119.51 119.60 L120.16 119.34 L120.80 119.08 L121.45 118.82 L122.10 118.57 L122.75 118.31 L123.40 118.06 L124.04 117.81 L124.69 117.56 L125.34 117.32 L126.00 117.07 L126.65 116.83 L127.30 116.59 L127.95 116.34 L128.60 116.10 L129.25 115.86 L129.91 115.63 L130.56 115.39 L131.21 115.15 L131.87 114.91 L132.52 114.68 L133.18 114.44 L133.83 114.21 L134.49 113.98 L135.14 113.74 L135.80 113.51 L136.45 113.28 L137.11 113.04 L137.76 112.81 L138.42 112.58 L139.08 112.34 L139.73 112.11 L140.39 111.88 L141.04 111.64 L141.70 111.41 L142.36 111.17 L143.01 110.94 L143.67 110.70 L144.33 110.46 L144.98 110.22 L145.64 109.99 L146.30 109.75 L146.96 109.51 L147.61 109.26 L148.27 109.02 L148.93 108.78 L149.58 108.53 L150.24 108.28 L150.90 108.04 L151.55 107.79 L152.21 107.53 L152.87 107.28 L153.52 107.03 L154.18 106.77 L154.83 106.52 L155.49 106.26 L156.15 106.01 L156.80 105.75 L157.46 105.49 L158.12 105.23 L158.77 104.97 L159.43 104.71 L160.09 104.46 L160.74 104.20 L161.40 103.94 L162.06 103.68 L162.72 103.42 L163.37 103.16 L164.03 102.90 L164.69 102.64 L165.35 102.38 L166.00 102.12 L166.66 101.87 L167.32 101.61 L167.98 101.35 L168.64 101.10 L169.30 100.84 L169.96 100.59 L170.62 100.34 L171.28 100.09 L171.94 99.84 L172.60 99.59 L173.26 99.34 L173.93 99.10 L174.59 98.86 L175.25 98.61 L175.91 98.37 L176.58 98.14 L177.24 97.90 L177.91 97.66 L178.57 97.43 L179.24 97.20 L179.90 96.97 L180.57 96.75 L181.24 96.53 L181.90 96.30 L182.57 96.09 L183.24 95.87 L183.91 95.66 L184.58 95.45 L185.25 95.24 L185.92 95.04 L186.59 94.84 L187.26 94.64 L187.93 94.45 L188.61 94.25 L189.28 94.07 L189.96 93.88 L190.63 93.70 L191.31 93.53 L191.99 93.35 L192.66 93.18 L193.34 93.02 L194.02 92.86 L194.70 92.70 L195.38 92.55 L196.06 92.40 L196.74 92.25 L197.43 92.11 L198.11 91.98 L198.80 91.85 L199.48 91.72 L200.17 91.60 L200.86 91.48 L201.54 91.37 L202.23 91.27 L202.92 91.16 L203.61 91.07 L204.31 90.98 L205.00 90.89 L205.69 90.81 L206.39 90.74 L207.08 90.67 L207.78 90.60 L208.48 90.55 L209.18 90.49 L209.88 90.45 L210.58 90.41 L211.28 90.37 L211.98 90.35 L212.69 90.33 L213.39 90.31 L214.10 90.30 L214.81 90.30 L215.52 90.30 L216.23 90.32 L216.94 90.33 L217.65 90.36 L218.36 90.39 L219.07 90.44 L219.77 90.49 L220.48 90.55 L221.19 90.62 L221.89 90.70 L222.59 90.79 L223.29 90.89 L223.99 91.00 L224.68 91.12 L225.37 91.25 L226.05 91.40 L226.74 91.56 L227.41 91.73 L228.08 91.91 L228.75 92.11 L229.40 92.32 L230.06 92.54 L230.70 92.78 L231.34 93.03 L231.97 93.30 L232.60 93.59 L233.21 93.88 L233.82 94.20 L234.42 94.53 L235.01 94.88 L235.59 95.24 L236.17 95.61 L236.74 96.00 L237.29 96.40 L237.84 96.81 L238.38 97.24 L238.91 97.68 L239.44 98.13 L239.95 98.59 L240.45 99.06 L240.95 99.55 L241.44 100.04 L241.91 100.54 L242.38 101.06 L242.84 101.58 L243.29 102.11 L243.73 102.64 L244.17 103.19 L244.59 103.74 L245.00 104.30 L245.40 104.87 L245.80 105.44 L246.18 106.02 L246.55 106.60 L246.92 107.19 L247.28 107.79 L247.63 108.39 L247.97 108.99 L248.30 109.61 L248.62 110.22 L248.94 110.84 L249.25 111.47 L249.55 112.10 L249.84 112.73 L250.13 113.37 L250.41 114.01 L250.68 114.66 L250.94 115.31 L251.20 115.96 L251.46 116.62 L251.71 117.28 L251.95 117.94 L252.19 118.61 L252.42 119.28 L252.64 119.95 L252.87 120.62 L253.08 121.30 L253.29 121.98 L253.50 122.66 L253.71 123.34 L253.91 124.02 L254.10 124.71 L254.29 125.40 L254.48 126.08 L254.67 126.77 L254.85 127.46 L255.03 128.15 L255.21 128.84 L255.38 129.54 L255.56 130.23 L255.73 130.92 L255.89 131.61 L256.06 132.30 L256.23 133.00 L256.39 133.69 L256.55 134.38 L256.71 135.07 L256.87 135.76 L257.03 136.45 L257.18 137.14 L257.33 137.84 L257.48 138.53 L257.63 139.22 L257.78 139.91 L257.93 140.60 L258.07 141.29 L258.21 141.98 L258.36 142.67 L258.50 143.37 L258.63 144.06 L258.77 144.75 L258.91 145.44 L259.04 146.13 L259.17 146.82 L259.30 147.51 L259.43 148.20 L259.56 148.89 L259.68 149.58 L259.81 150.27 L259.93 150.97 L260.05 151.66 L260.17 152.35 L260.29 153.04 L260.41 153.73 L260.53 154.42 L260.64 155.11 L260.75 155.80 L260.87 156.49 L260.98 157.18 L261.09 157.87 L261.19 158.56 L261.30 159.25 L261.40 159.95 L261.51 160.64 L261.61 161.33 L261.71 162.02 L261.81 162.71 L261.91 163.40 L262.01 164.09 L262.11 164.78 L262.20 165.47 L262.30 166.16 L262.39 166.86 L262.48 167.55 L262.57 168.24 L262.66 168.93 L262.75 169.62 L262.84 170.31 L262.92 171.00 L263.01 171.69 L263.09 172.39 L263.18 173.08 L263.26 173.77 L263.34 174.46 L263.42 175.15 L263.50 175.85 L263.58 176.54 L263.66 177.23 L263.73 177.92 L263.81 178.61 L263.88 179.31 L263.96 180.00 L264.03 180.69 L264.10 181.38 L264.17 182.08 L264.24 182.77 L264.31 183.46 L264.38 184.15 L264.45 184.85 L264.51 185.54 L264.58 186.23 L264.64 186.93 L264.71 187.62 L264.77 188.31 L264.83 189.01 L264.90 189.70 L264.96 190.40 L265.02 191.09 L265.08 191.78 L265.14 192.48 L265.20 193.17 L265.25 193.87 L265.31 194.56 L265.37 195.26 L265.42 195.95 L265.48 196.65 L265.53 197.34 L265.59 198.04 L265.64 198.73 L265.69 199.43 L265.75 200.12 L265.80 200.82 L265.85 201.52 L265.90 202.21 L265.95 202.91 L266.00 203.60 L266.05 204.30 L266.10 205.00 L266.15 205.70 L266.20 206.39 L266.25 207.09 L266.29 207.79 L266.34 208.49 L266.39 209.18 L266.43 209.88 L266.48 210.58 L266.52 211.28 L266.57 211.98 L266.61 212.68 L266.66 213.37 L266.70 214.07 L266.75 214.77 L266.79 215.47 L266.83 216.17 L266.88 216.87 L266.92 217.57 L266.96 218.27 L267.01 218.97 L267.05 219.67 L267.09 220.38 L267.13 221.08 L267.18 221.78 L267.22 222.48 L267.26 223.18 L267.30 223.88 L267.34 224.59 L267.38 225.29 L267.43 225.99 L267.47 226.70 L267.51 227.40 L267.55 228.10 L267.59 228.81 L267.63 229.51 L267.67 230.21 L267.71 230.92 L267.76 231.62 L267.80 232.33 L267.84 233.03 L267.88 233.74 L267.92 234.45 L267.96 235.15 L268.01 235.86 L268.05 236.56 L268.09 237.27 L268.13 237.98 L268.17 238.69 L268.22 239.39 L268.26 240.10 L268.30 240.81 L268.35 241.52 L268.39 242.23 L268.43 242.94 L268.48 243.65 L268.52 244.36 L268.56 245.07" stroke="#008000" stroke-dasharray="8.8 4.3"/>
<path d="M54.97 218.21 L55.50 218.03 L56.03 217.85 L56.56 217.67 L57.08 217.49 L57.61 217.31 L58.14 217.12 L58.66 216.94 L59.19 216.75 L59.71 216.56 L60.23 216.37 L60.76 216.18 L61.28 215.98 L61.80 215.78 L62.32 215.59 L62.84 215.39 L63.36 215.19 L63.88 214.98 L64.40 214.78 L64.92 214.57 L65.44 214.37 L65.96 214.16 L66.47 213.95 L66.99 213.74 L67.51 213.53 L68.02 213.31 L68.54 213.10 L69.05 212.88 L69.57 212.67 L70.08 212.45 L70.60 212.23 L71.11 212.01 L71.62 211.79 L72.13 211.57 L72.65 211.35 L73.16 211.12 L73.67 210.90 L74.18 210.67 L74.69 210.44 L75.20 210.22 L75.71 209.99 L76.22 209.76 L76.73 209.53 L77.24 209.30 L77.75 209.07 L78.26 208.84 L78.77 208.60 L79.28 208.37 L79.79 208.14 L80.30 207.90 L80.80 207.67 L81.31 207.43 L81.82 207.20 L82.33 206.96 L82.83 206.72 L83.34 206.49 L83.85 206.25 L84.35 206.01 L84.86 205.77 L85.37 205.54 L85.87 205.30 L86.38 205.06 L86.89 204.82 L87.39 204.58 L87.90 204.34 L88.40 204.10 L88.91 203.86 L89.42 203.62 L89.92 203.38 L90.43 203.14 L90.93 202.91 L91.44 202.67 L91.94 202.43 L92.45 202.19 L92.96 201.95 L93.46 201.71 L93.97 201.47 L94.47 201.23 L94.98 201.00 L95.49 200.76 L95.99 200.52 L96.50 200.28 L97.01 200.05 L97.51 199.81 L98.02 199.57 L98.53 199.34 L99.03 199.10 L99.54 198.87 L100.05 198.64 L100.55 198.40 L101.06 198.17 L101.57 197.94 L102.08 197.71 L102.59 197.48 L103.09 197.25 L103.60 197.02 L104.11 196.79 L104.62 196.56 L105.13 196.34 L105.64 196.11 L106.15 195.88 L106.66 195.66 L107.17 195.44 L107.68 195.22 L108.19 194.99 L108.70 194.77 L109.21 194.56 L109.73 194.34 L110.24 194.12 L110.75 193.90 L111.26 193.69 L111.78 193.47 L112.29 193.26 L112.80 193.04 L113.32 192.83 L113.83 192.62 L114.34 192.41 L114.86 192.20 L115.37 191.99 L115.89 191.78 L116.40 191.57 L116.92 191.36 L117.44 191.15 L117.95 190.95 L118.47 190.74 L118.98 190.54 L119.50 190.33 L120.02 190.12 L120.54 189.92 L121.05 189.72 L121.57 189.51 L122.09 189.31 L122.61 189.11 L123.12 188.91 L123.64 188.70 L124.16 188.50 L124.68 188.30 L125.20 188.10 L125.72 187.90 L126.24 187.70 L126.76 187.50 L127.28 187.30 L127.80 187.10 L128.32 186.90 L128.84 186.70 L129.36 186.50 L129.88 186.30 L130.40 186.10 L130.92 185.90 L131.44 185.70 L131.96 185.50 L132.48 185.30 L133.00 185.11 L133.52 184.91 L134.04 184.71 L134.57 184.51 L135.09 184.31 L135.61 184.11 L136.13 183.91 L136.65 183.71 L137.18 183.51 L137.70 183.31 L138.22 183.11 L138.74 182.91 L139.27 182.71 L139.79 182.51 L140.31 182.31 L140.84 182.10 L141.36 181.90 L141.88 181.70 L142.41 181.50 L142.93 181.30 L143.45 181.09 L143.98 180.89 L144.50 180.69 L145.02 180.48 L145.55 180.28 L146.07 180.08 L146.59 179.88 L147.12 179.67 L147.64 179.47 L148.17 179.27 L148.69 179.06 L149.22 178.86 L149.74 178.66 L150.26 178.45 L150.79 178.25 L151.31 178.05 L151.84 177.84 L152.36 177.64 L152.89 177.44 L153.41 177.24 L153.94 177.04 L154.46 176.83 L154.99 176.63 L155.51 176.43 L156.04 176.23 L156.56 176.03 L157.09 175.83 L157.61 175.63 L158.14 175.43 L158.67 175.23 L159.19 175.04 L159.72 174.84 L160.24 174.64 L160.77 174.44 L161.30 174.25 L161.82 174.05 L162.35 173.86 L162.87 173.66 L163.40 173.47 L163.93 173.27 L164.45 173.08 L164.98 172.89 L165.50 172.70 L166.03 172.51 L166.56 172.32 L167.08 172.13 L167.61 171.94 L168.14 171.75 L168.66 171.57 L169.19 171.38 L169.72 171.20 L170.24 171.01 L170.77 170.83 L171.30 170.65 L171.83 170.47 L172.35 170.28 L172.88 170.11 L173.41 169.93 L173.93 169.75 L174.46 169.57 L174.99 169.40 L175.52 169.22 L176.04 169.05 L176.57 168.88 L177.10 168.71 L177.63 168.54 L178.15 168.37 L178.68 168.20 L179.21 168.04 L179.74 167.87 L180.26 167.71 L180.79 167.55 L181.32 167.39 L181.85 167.23 L182.37 167.07 L182.90 166.91 L183.43 166.76 L183.96 166.61 L184.49 166.45 L185.01 166.30 L185.54 166.15 L186.07 166.01 L186.60 165.86 L187.13 165.71 L187.65 165.57 L188.18 165.43 L188.71 165.29 L189.24 165.15 L189.77 165.01 L190.30 164.87 L190.83 164.74 L191.37 164.61 L191.90 164.47 L192.43 164.34 L192.97 164.21 L193.50 164.09 L194.04 163.96 L194.57 163.83 L195.11 163.71 L195.65 163.59 L196.19 163.47 L196.73 163.35 L197.28 163.23 L197.82 163.11 L198.37 162.99 L198.91 162.88 L199.46 162.77 L200.01 162.65 L200.56 162.54 L201.12 162.43 L201.67 162.32 L202.23 162.22 L202.79 162.11 L203.35 162.01 L203.91 161.90 L204.47 161.80 L205.03 161.70 L205.60 161.61 L206.17 161.51 L206.73 161.42 L207.30 161.33 L207.87 161.25 L208.44 161.17 L209.01 161.09 L209.58 161.01 L210.15 160.94 L210.72 160.87 L211.30 160.81 L211.87 160.75 L212.44 160.69 L213.01 160.64 L213.58 160.59 L214.15 160.55 L214.73 160.51 L215.30 160.48 L215.87 160.46 L216.44 160.44 L217.01 160.42 L217.57 160.41 L218.14 160.41 L218.71 160.41 L219.27 160.42 L219.84 160.44 L220.40 160.46 L220.96 160.49 L221.52 160.53 L222.08 160.57 L222.63 160.62 L223.19 160.68 L223.74 160.75 L224.29 160.83 L224.84 160.91 L225.39 161.00 L225.93 161.10 L226.47 161.21 L227.01 161.33 L227.55 161.45 L228.08 161.59 L228.61 161.73 L229.13 161.89 L229.66 162.05 L230.17 162.23 L230.69 162.41 L231.19 162.61 L231.70 162.81 L232.19 163.02 L232.68 163.25 L233.17 163.49 L233.65 163.73 L234.12 163.99 L234.59 164.26 L235.05 164.54 L235.51 164.83 L235.96 165.12 L236.40 165.43 L236.84 165.75 L237.27 166.07 L237.70 166.41 L238.12 166.75 L238.53 167.10 L238.94 167.46 L239.35 167.83 L239.74 168.20 L240.14 168.58 L240.53 168.97 L240.91 169.37 L241.29 169.77 L241.66 170.18 L242.03 170.60 L242.39 171.02 L242.74 171.45 L243.10 171.88 L243.44 172.32 L243.78 172.77 L244.12 173.22 L244.45 173.67 L244.78 174.13 L245.10 174.59 L245.42 175.06 L245.73 175.53 L246.04 176.01 L246.34 176.49 L246.64 176.97 L246.93 177.46 L247.22 177.94 L247.51 178.44 L247.79 178.93 L248.06 179.42 L248.33 179.92 L248.60 180.42 L248.86 180.92 L249.12 181.43 L249.38 181.93 L249.63 182.44 L249.87 182.95 L250.12 183.46 L250.36 183.97 L250.59 184.49 L250.82 185.00 L251.05 185.52 L251.27 186.04 L251.49 186.56 L251.70 187.08 L251.92 187.60 L252.12 188.13 L252.33 188.65 L252.53 189.18 L252.73 189.70 L252.92 190.23 L253.11 190.76 L253.30 191.29 L253.48 191.83 L253.66 192.36 L253.84 192.89 L254.02 193.43 L254.19 193.96 L254.36 194.50 L254.52 195.04 L254.68 195.58 L254.84 196.11 L255.00 196.65 L255.16 197.19 L255.31 197.73 L255.45 198.27 L255.60 198.82 L255.74 199.36 L255.88 199.90 L256.02 200.44 L256.16 200.98 L256.29 201.53 L256.42 202.07 L256.55 202.61 L256.68 203.16 L256.80 203.70 L256.92 204.24 L257.04 204.79 L257.16 205.33 L257.27 205.88 L257.39 206.42 L257.50 206.96 L257.61 207.51 L257.71 208.05 L257.82 208.60 L257.92 209.14 L258.02 209.69 L258.12 210.23 L258.22 210.78 L258.31 211.32 L258.41 211.87 L258.50 212.41 L258.59 212.96 L258.68 213.50 L258.76 214.05 L258.85 214.60 L258.93 215.14 L259.01 215.69 L259.09 216.24 L259.17 216.78 L259.24 217.33 L259.32 217.88 L259.39 218.43 L259.46 218.97 L259.53 219.52 L259.60 220.07 L259.66 220.62 L259.73 221.17 L259.79 221.72 L259.86 222.27 L259.92 222.82 L259.98 223.37 L260.03 223.92 L260.09 224.47 L260.15 225.03 L260.20 225.58 L260.26 226.13 L260.31 226.68 L260.36 227.24 L260.41 227.79 L260.46 228.34 L260.50 228.90 L260.55 229.45 L260.60 230.01 L260.64 230.56 L260.68 231.12 L260.73 231.67 L260.77 232.23 L260.81 232.79 L260.85 233.35 L260.89 233.90 L260.93 234.46 L260.96 235.02 L261.00 235.58 L261.04 236.14 L261.07 236.70 L261.10 237.26 L261.14 237.82 L261.17 238.39 L261.20 238.95 L261.23 239.51 L261.27 240.07 L261.30 240.64 L261.33 241.20 L261.35 241.77 L261.38 242.33 L261.41 242.90 L261.44 243.47 L261.47 244.03 L261.49 244.60" stroke="#008000" stroke-dasharray="1.2 1.9"/>
<path d="M77.61 245.43 L77.78 244.61 L77.95 243.80 L78.12 242.99 L78.30 242.17 L78.47 241.36 L78.64 240.54 L78.81 239.73 L78.98 238.91 L79.16 238.09 L79.33 237.28 L79.50 236.46 L79.67 235.64 L79.85 234.82 L80.02 234.01 L80.19 233.19 L80.37 232.37 L80.54 231.55 L80.72 230.73 L80.89 229.91 L81.07 229.10 L81.24 228.28 L81.42 227.46 L81.59 226.64 L81.77 225.82 L81.95 225.00 L82.12 224.18 L82.30 223.36 L82.48 222.54 L82.66 221.71 L82.84 220.89 L83.02 220.07 L83.20 219.25 L83.38 218.43 L83.56 217.61 L83.74 216.79 L83.92 215.97 L84.10 215.15 L84.29 214.33 L84.47 213.51 L84.65 212.69 L84.84 211.86 L85.02 211.04 L85.21 210.22 L85.40 209.40 L85.59 208.58 L85.77 207.76 L85.96 206.94 L86.15 206.12 L86.34 205.30 L86.53 204.48 L86.73 203.66 L86.92 202.84 L87.11 202.02 L87.31 201.20 L87.50 200.38 L87.70 199.56 L87.90 198.74 L88.10 197.93 L88.29 197.11 L88.49 196.29 L88.69 195.47 L88.90 194.65 L89.10 193.84 L89.30 193.02 L89.51 192.20 L89.71 191.39 L89.92 190.57 L90.13 189.75 L90.34 188.94 L90.55 188.12 L90.76 187.31 L90.97 186.50 L91.18 185.68 L91.40 184.87 L91.61 184.06 L91.83 183.24 L92.05 182.43 L92.27 181.62 L92.49 180.81 L92.71 180.00 L92.93 179.19 L93.16 178.38 L93.38 177.57 L93.61 176.76 L93.84 175.95 L94.07 175.14 L94.30 174.34 L94.53 173.53 L94.76 172.72 L95.00 171.92 L95.23 171.11 L95.47 170.31 L95.71 169.51 L95.95 168.70 L96.19 167.90 L96.43 167.10 L96.68 166.30 L96.92 165.50 L97.17 164.70 L97.42 163.90 L97.67 163.10 L97.92 162.30 L98.18 161.51 L98.43 160.71 L98.69 159.92 L98.95 159.12 L99.21 158.33 L99.47 157.53 L99.74 156.74 L100.00 155.95 L100.27 155.16 L100.54 154.37 L100.81 153.58 L101.08 152.80 L101.35 152.01 L101.63 151.22 L101.91 150.44 L102.19 149.65 L102.47 148.87 L102.75 148.09 L103.04 147.31 L103.32 146.52 L103.61 145.75 L103.90 144.97 L104.19 144.19 L104.49 143.41 L104.79 142.64 L105.08 141.86 L105.38 141.09 L105.69 140.31 L105.99 139.54 L106.30 138.76 L106.60 137.99 L106.91 137.22 L107.23 136.45 L107.54 135.67 L107.86 134.90 L108.18 134.13 L108.50 133.36 L108.82 132.59 L109.14 131.82 L109.47 131.05 L109.80 130.28 L110.13 129.51 L110.46 128.73 L110.80 127.96 L111.13 127.19 L111.47 126.42 L111.81 125.65 L112.16 124.87 L112.50 124.10 L112.85 123.32 L113.20 122.55 L113.55 121.77 L113.91 121.00 L114.27 120.22 L114.63 119.44 L114.99 118.67 L115.35 117.89 L115.72 117.11 L116.09 116.33 L116.46 115.54 L116.83 114.76 L117.21 113.98 L117.59 113.20 L117.97 112.42 L118.37 111.65 L118.77 110.88 L119.18 110.12 L119.59 109.37 L120.02 108.62 L120.46 107.89 L120.91 107.17 L121.37 106.46 L121.85 105.77 L122.34 105.09 L122.85 104.43 L123.37 103.79 L123.91 103.17 L124.47 102.57 L125.05 101.99 L125.64 101.43 L126.26 100.89 L126.88 100.37 L127.53 99.88 L128.18 99.41 L128.86 98.96 L129.54 98.53 L130.24 98.13 L130.95 97.75 L131.68 97.40 L132.41 97.06 L133.16 96.75 L133.91 96.47 L134.67 96.21 L135.45 95.97 L136.23 95.76 L137.02 95.58 L137.81 95.42 L138.61 95.28 L139.42 95.17 L140.23 95.09 L141.05 95.03 L141.87 95.00 L142.69 94.99 L143.52 95.01 L144.35 95.05 L145.18 95.12 L146.01 95.20 L146.85 95.30 L147.69 95.42 L148.53 95.55 L149.37 95.70 L150.21 95.87 L151.06 96.04 L151.90 96.23 L152.74 96.43 L153.58 96.63 L154.43 96.84 L155.27 97.06 L156.11 97.29 L156.95 97.52 L157.79 97.74 L158.62 97.98 L159.46 98.21 L160.29 98.43 L161.12 98.66 L161.94 98.88 L162.77 99.10 L163.59 99.32 L164.41 99.53 L165.22 99.75 L166.04 99.96 L166.85 100.16 L167.66 100.37 L168.47 100.58 L169.28 100.78 L170.08 100.99 L170.89 101.19 L171.69 101.40 L172.49 101.60 L173.29 101.81 L174.09 102.01 L174.89 102.22 L175.69 102.43 L176.49 102.64 L177.29 102.86 L178.09 103.07 L178.88 103.29 L179.68 103.51 L180.48 103.74 L181.28 103.96 L182.07 104.20 L182.87 104.43 L183.67 104.67 L184.47 104.91 L185.27 105.15 L186.07 105.39 L186.87 105.63 L187.67 105.88 L188.47 106.13 L189.27 106.38 L190.07 106.63 L190.87 106.88 L191.67 107.13 L192.47 107.38 L193.28 107.63 L194.08 107.88 L194.88 108.13 L195.69 108.38 L196.49 108.62 L197.30 108.87 L198.10 109.11 L198.91 109.36 L199.71 109.60 L200.52 109.84 L201.33 110.08 L202.14 110.31 L202.95 110.54 L203.76 110.77 L204.57 111.00 L205.38 111.22 L206.19 111.44 L207.00 111.65 L207.81 111.87 L208.62 112.07 L209.44 112.28 L210.25 112.48 L211.07 112.69 L211.88 112.89 L212.70 113.08 L213.51 113.28 L214.33 113.48 L215.14 113.67 L215.96 113.87 L216.77 114.06 L217.59 114.25 L218.40 114.45 L219.21 114.64 L220.03 114.84 L220.84 115.04 L221.65 115.24 L222.47 115.44 L223.28 115.64 L224.09 115.85 L224.90 116.06 L225.71 116.27 L226.52 116.48 L227.33 116.70 L228.14 116.92 L228.94 117.15 L229.75 117.38 L230.55 117.61 L231.36 117.85 L232.16 118.09 L232.96 118.34 L233.76 118.60 L234.56 118.86 L235.35 119.13 L236.15 119.41 L236.94 119.69 L237.73 119.98 L238.52 120.27 L239.31 120.57 L240.10 120.88 L240.88 121.20 L241.66 121.52 L242.44 121.86 L243.22 122.19 L243.99 122.54 L244.76 122.89 L245.52 123.25 L246.29 123.62 L247.05 123.99 L247.80 124.37 L248.55 124.76 L249.30 125.16 L250.04 125.56 L250.78 125.97 L251.51 126.39 L252.24 126.81 L252.97 127.24 L253.69 127.68 L254.40 128.13 L255.11 128.58 L255.81 129.05 L256.51 129.52 L257.20 129.99 L257.89 130.48 L258.56 130.97 L259.24 131.47 L259.90 131.97 L260.56 132.49 L261.22 133.01 L261.86 133.54 L262.50 134.08 L263.13 134.62 L263.76 135.17 L264.37 135.73 L264.98 136.30 L265.58 136.87 L266.18 137.46 L266.76 138.05 L267.34 138.64 L267.92 139.24 L268.48 139.85 L269.04 140.47 L269.59 141.09 L270.14 141.72 L270.67 142.36 L271.20 143.00 L271.73 143.65 L272.24 144.30 L272.75 144.96 L273.26 145.62 L273.75 146.30 L274.24 146.97 L274.72 147.65 L275.20 148.34 L275.67 149.03 L276.13 149.73 L276.59 150.43 L277.04 151.14 L277.48 151.85 L277.92 152.57 L278.35 153.29 L278.77 154.01 L279.19 154.74 L279.60 155.47 L280.01 156.21 L280.41 156.95 L280.80 157.70 L281.19 158.45 L281.57 159.20 L281.94 159.95 L282.31 160.71 L282.68 161.48 L283.03 162.24 L283.39 163.01 L283.73 163.78 L284.07 164.56 L284.41 165.33 L284.73 166.11 L285.06 166.89 L285.38 167.68 L285.69 168.46 L285.99 169.25 L286.29 170.04 L286.59 170.83 L286.88 171.63 L287.16 172.42 L287.44 173.22 L287.72 174.02 L287.99 174.82 L288.25 175.62 L288.51 176.42 L288.76 177.22 L289.01 178.03 L289.26 178.83 L289.49 179.64 L289.73 180.44 L289.96 181.25 L290.18 182.06 L290.40 182.87 L290.62 183.68 L290.83 184.49 L291.04 185.30 L291.24 186.12 L291.44 186.93 L291.63 187.75 L291.82 188.56 L292.01 189.38 L292.19 190.19 L292.37 191.01 L292.55 191.83 L292.72 192.65 L292.89 193.47 L293.06 194.29 L293.22 195.11 L293.38 195.93 L293.53 196.76 L293.69 197.58 L293.83 198.40 L293.98 199.23 L294.13 200.05 L294.27 200.88 L294.40 201.70 L294.54 202.53 L294.67 203.36 L294.80 204.18 L294.93 205.01 L295.06 205.84 L295.18 206.67 L295.30 207.50 L295.42 208.33 L295.54 209.16 L295.66 209.99 L295.77 210.82 L295.88 211.65 L296.00 212.48 L296.10 213.32 L296.21 214.15 L296.32 214.98 L296.42 215.81 L296.53 216.65 L296.63 217.48 L296.73 218.31 L296.83 219.15 L296.93 219.98 L297.03 220.81 L297.13 221.65 L297.23 222.48 L297.32 223.32 L297.42 224.15 L297.51 224.98 L297.61 225.82 L297.70 226.65 L297.80 227.49 L297.89 228.32 L297.99 229.16 L298.08 229.99 L298.18 230.83 L298.27 231.66 L298.37 232.50 L298.46 233.33 L298.56 234.16 L298.65 235.00 L298.75 235.83 L298.85 236.67 L298.95 237.50 L299.05 238.33 L299.15 239.17 L299.25 240.00 L299.35 240.83 L299.45 241.67 L299.56 242.50 L299.66 243.33 L299.77 244.16 L299.88 244.99" stroke="#0000ff"  stroke-width="1.5"/>
<path d="M55.05 139.21 L55.70 138.93 L56.34 138.65 L56.99 138.37 L57.64 138.08 L58.29 137.80 L58.93 137.52 L59.58 137.24 L60.23 136.95 L60.88 136.67 L61.53 136.39 L62.17 136.10 L62.82 135.82 L63.47 135.54 L64.12 135.25 L64.77 134.97 L65.42 134.68 L66.06 134.40 L66.71 134.11 L67.36 133.83 L68.01 133.54 L68.66 133.26 L69.31 132.98 L69.96 132.69 L70.60 132.41 L71.25 132.12 L71.90 131.84 L72.55 131.55 L73.20 131.27 L73.85 130.98 L74.50 130.70 L75.15 130.41 L75.80 130.13 L76.45 129.84 L77.10 129.55 L77.75 129.27 L78.40 128.98 L79.05 128.70 L79.70 128.41 L80.35 128.13 L81.00 127.84 L81.65 127.56 L82.30 127.27 L82.95 126.99 L83.60 126.71 L84.25 126.42 L84.90 126.14 L85.55 125.85 L86.20 125.57 L86.85 125.28 L87.50 125.00 L88.16 124.72 L88.81 124.43 L89.46 124.15 L90.11 123.86 L90.76 123.58 L91.41 123.30 L92.07 123.01 L92.72 122.73 L93.37 122.45 L94.02 122.17 L94.67 121.88 L95.33 121.60 L95.98 121.32 L96.63 121.04 L97.28 120.76 L97.94 120.47 L98.59 120.19 L99.24 119.91 L99.90 119.63 L100.55 119.35 L101.20 119.07 L101.86 118.79 L102.51 118.51 L103.16 118.23 L103.82 117.95 L104.47 117.67 L105.12 117.39 L105.78 117.12 L106.43 116.84 L107.09 116.56 L107.74 116.28 L108.40 116.01 L109.05 115.73 L109.71 115.45 L110.36 115.18 L111.02 114.90 L111.67 114.63 L112.33 114.35 L112.98 114.08 L113.64 113.80 L114.29 113.53 L114.95 113.26 L115.61 112.98 L116.26 112.71 L116.92 112.44 L117.58 112.17 L118.23 111.89 L118.89 111.62 L119.55 111.35 L120.20 111.08 L120.86 110.81 L121.52 110.54 L122.18 110.28 L122.83 110.01 L123.49 109.74 L124.15 109.47 L124.81 109.21 L125.47 108.94 L126.12 108.67 L126.78 108.41 L127.44 108.14 L128.10 107.88 L128.76 107.62 L129.42 107.35 L130.08 107.09 L130.74 106.83 L131.40 106.57 L132.06 106.31 L132.72 106.04 L133.38 105.78 L134.04 105.53 L134.70 105.27 L135.36 105.01 L136.02 104.75 L136.68 104.49 L137.34 104.24 L138.00 103.98 L138.67 103.73 L139.33 103.47 L139.99 103.22 L140.65 102.97 L141.31 102.71 L141.98 102.46 L142.64 102.21 L143.30 101.96 L143.96 101.71 L144.63 101.46 L145.29 101.21 L145.95 100.97 L146.62 100.72 L147.28 100.47 L147.95 100.23 L148.61 99.98 L149.27 99.74 L149.94 99.50 L150.60 99.25 L151.27 99.01 L151.93 98.77 L152.60 98.53 L153.26 98.29 L153.93 98.05 L154.60 97.82 L155.26 97.58 L155.93 97.34 L156.59 97.11 L157.26 96.87 L157.93 96.64 L158.60 96.41 L159.26 96.17 L159.93 95.94 L160.60 95.71 L161.27 95.48 L161.93 95.25 L162.60 95.03 L163.27 94.80 L163.94 94.57 L164.61 94.35 L165.28 94.12 L165.95 93.90 L166.62 93.68 L167.29 93.45 L167.96 93.23 L168.63 93.01 L169.30 92.80 L169.97 92.58 L170.64 92.36 L171.31 92.14 L171.98 91.93 L172.65 91.72 L173.32 91.50 L174.00 91.29 L174.67 91.08 L175.34 90.87 L176.02 90.66 L176.69 90.46 L177.37 90.25 L178.04 90.05 L178.72 89.84 L179.40 89.64 L180.08 89.44 L180.75 89.24 L181.43 89.04 L182.11 88.85 L182.80 88.65 L183.48 88.46 L184.16 88.27 L184.85 88.07 L185.53 87.89 L186.22 87.70 L186.91 87.51 L187.60 87.33 L188.29 87.15 L188.98 86.97 L189.67 86.79 L190.37 86.61 L191.06 86.44 L191.76 86.26 L192.46 86.09 L193.16 85.92 L193.86 85.75 L194.57 85.59 L195.27 85.42 L195.98 85.26 L196.69 85.10 L197.40 84.94 L198.11 84.79 L198.82 84.64 L199.54 84.49 L200.25 84.34 L200.97 84.20 L201.68 84.07 L202.40 83.93 L203.12 83.81 L203.84 83.68 L204.56 83.57 L205.27 83.46 L205.99 83.35 L206.71 83.25 L207.43 83.16 L208.15 83.08 L208.86 83.00 L209.58 82.93 L210.30 82.87 L211.01 82.82 L211.72 82.77 L212.44 82.74 L213.15 82.71 L213.85 82.69 L214.56 82.69 L215.27 82.69 L215.97 82.71 L216.67 82.73 L217.37 82.77 L218.07 82.81 L218.76 82.87 L219.45 82.95 L220.14 83.03 L220.82 83.13 L221.51 83.24 L222.19 83.36 L222.86 83.50 L223.53 83.65 L224.20 83.81 L224.87 83.99 L225.53 84.19 L226.18 84.39 L226.83 84.62 L227.48 84.85 L228.12 85.10 L228.76 85.37 L229.39 85.64 L230.02 85.93 L230.64 86.24 L231.25 86.55 L231.86 86.88 L232.46 87.23 L233.05 87.58 L233.64 87.95 L234.22 88.33 L234.79 88.72 L235.36 89.12 L235.91 89.54 L236.46 89.96 L237.00 90.40 L237.54 90.85 L238.06 91.31 L238.57 91.79 L239.08 92.27 L239.57 92.76 L240.06 93.27 L240.53 93.78 L241.00 94.31 L241.46 94.84 L241.90 95.39 L242.34 95.94 L242.77 96.50 L243.19 97.07 L243.60 97.65 L244.00 98.24 L244.39 98.83 L244.78 99.44 L245.16 100.04 L245.52 100.66 L245.88 101.28 L246.24 101.90 L246.58 102.54 L246.92 103.17 L247.24 103.81 L247.57 104.46 L247.88 105.11 L248.19 105.76 L248.49 106.42 L248.78 107.08 L249.06 107.74 L249.34 108.41 L249.62 109.08 L249.88 109.75 L250.14 110.42 L250.40 111.09 L250.64 111.76 L250.88 112.44 L251.12 113.12 L251.35 113.80 L251.57 114.48 L251.79 115.16 L252.01 115.84 L252.21 116.52 L252.42 117.21 L252.62 117.89 L252.81 118.58 L253.00 119.27 L253.18 119.96 L253.36 120.65 L253.54 121.34 L253.71 122.03 L253.88 122.73 L254.04 123.42 L254.20 124.12 L254.36 124.81 L254.51 125.51 L254.66 126.21 L254.81 126.90 L254.95 127.60 L255.09 128.30 L255.23 129.00 L255.36 129.70 L255.49 130.40 L255.62 131.10 L255.75 131.81 L255.87 132.51 L256.00 133.21 L256.12 133.91 L256.23 134.61 L256.35 135.32 L256.47 136.02 L256.58 136.72 L256.69 137.43 L256.81 138.13 L256.92 138.83 L257.02 139.54 L257.13 140.24 L257.24 140.94 L257.35 141.64 L257.46 142.35 L257.56 143.05 L257.67 143.75 L257.77 144.45 L257.88 145.15 L257.99 145.85 L258.09 146.55 L258.20 147.25 L258.31 147.95 L258.42 148.65 L258.52 149.35 L258.63 150.05 L258.73 150.75 L258.84 151.45 L258.94 152.15 L259.05 152.84 L259.15 153.54 L259.25 154.24 L259.35 154.94 L259.45 155.64 L259.55 156.33 L259.65 157.03 L259.74 157.73 L259.83 158.43 L259.93 159.13 L260.02 159.83 L260.10 160.53 L260.19 161.22 L260.27 161.92 L260.35 162.62 L260.43 163.33 L260.51 164.03 L260.58 164.73 L260.65 165.43 L260.72 166.13 L260.78 166.84 L260.85 167.54 L260.91 168.24 L260.96 168.95 L261.02 169.65 L261.07 170.36 L261.12 171.06 L261.17 171.77 L261.22 172.47 L261.27 173.18 L261.31 173.89 L261.36 174.60 L261.40 175.30 L261.44 176.01 L261.48 176.72 L261.52 177.43 L261.56 178.14 L261.60 178.84 L261.64 179.55 L261.68 180.26 L261.72 180.97 L261.76 181.68 L261.79 182.39 L261.83 183.10 L261.87 183.81 L261.91 184.52 L261.95 185.22 L261.99 185.93 L262.03 186.64 L262.07 187.35 L262.12 188.06 L262.16 188.77 L262.21 189.48 L262.25 190.19 L262.30 190.90 L262.35 191.60 L262.40 192.31 L262.45 193.02 L262.50 193.73 L262.55 194.44 L262.60 195.15 L262.65 195.85 L262.71 196.56 L262.76 197.27 L262.82 197.98 L262.87 198.69 L262.93 199.39 L262.99 200.10 L263.04 200.81 L263.10 201.52 L263.16 202.22 L263.22 202.93 L263.28 203.64 L263.34 204.35 L263.41 205.05 L263.47 205.76 L263.53 206.47 L263.60 207.18 L263.66 207.88 L263.73 208.59 L263.79 209.30 L263.86 210.00 L263.92 210.71 L263.99 211.42 L264.06 212.12 L264.13 212.83 L264.20 213.54 L264.26 214.24 L264.33 214.95 L264.40 215.65 L264.47 216.36 L264.54 217.07 L264.62 217.77 L264.69 218.48 L264.76 219.18 L264.83 219.89 L264.90 220.60 L264.97 221.30 L265.05 222.01 L265.12 222.71 L265.19 223.42 L265.27 224.12 L265.34 224.83 L265.41 225.54 L265.49 226.24 L265.56 226.95 L265.64 227.65 L265.71 228.36 L265.78 229.06 L265.86 229.77 L265.93 230.47 L266.01 231.18 L266.08 231.88 L266.15 232.59 L266.22 233.29 L266.29 234.00 L266.37 234.70 L266.43 235.41 L266.50 236.11 L266.57 236.82 L266.64 237.52 L266.70 238.23 L266.76 238.93 L266.83 239.64 L266.89 240.35 L266.95 241.05 L267.00 241.76 L267.06 242.46 L267.11 243.17 L267.16 243.88 L267.21 244.59" stroke="#0000ff" stroke-dasharray="8.8 4.3" stroke-width="1.5"/>
<path d="M54.97 209.26 L55.50 209.05 L56.02 208.83 L56.55 208.62 L57.08 208.41 L57.61 208.19 L58.13 207.98 L58.66 207.76 L59.19 207.55 L59.71 207.33 L60.24 207.12 L60.77 206.90 L61.30 206.69 L61.82 206.47 L62.35 206.25 L62.88 206.04 L63.40 205.82 L63.93 205.60 L64.46 205.39 L64.98 205.17 L65.51 204.95 L66.03 204.73 L66.56 204.51 L67.09 204.30 L67.61 204.08 L68.14 203.86 L68.66 203.64 L69.19 203.42 L69.72 203.20 L70.24 202.98 L70.77 202.76 L71.29 202.54 L71.82 202.32 L72.34 202.10 L72.87 201.88 L73.40 201.66 L73.92 201.44 L74.45 201.22 L74.97 201.00 L75.50 200.78 L76.02 200.55 L76.55 200.33 L77.07 200.11 L77.60 199.89 L78.12 199.67 L78.65 199.44 L79.17 199.22 L79.70 199.00 L80.22 198.78 L80.75 198.56 L81.27 198.33 L81.80 198.11 L82.32 197.89 L82.85 197.66 L83.37 197.44 L83.90 197.22 L84.42 197.00 L84.95 196.77 L85.47 196.55 L86.00 196.33 L86.52 196.10 L87.05 195.88 L87.57 195.66 L88.10 195.43 L88.62 195.21 L89.15 194.99 L89.67 194.76 L90.20 194.54 L90.72 194.31 L91.25 194.09 L91.77 193.87 L92.30 193.64 L92.82 193.42 L93.35 193.20 L93.87 192.97 L94.39 192.75 L94.92 192.53 L95.44 192.30 L95.97 192.08 L96.49 191.86 L97.02 191.63 L97.54 191.41 L98.07 191.19 L98.59 190.96 L99.12 190.74 L99.64 190.52 L100.17 190.29 L100.69 190.07 L101.22 189.85 L101.74 189.62 L102.27 189.40 L102.79 189.18 L103.32 188.96 L103.84 188.73 L104.37 188.51 L104.89 188.29 L105.42 188.07 L105.94 187.85 L106.47 187.62 L107.00 187.40 L107.52 187.18 L108.05 186.96 L108.57 186.74 L109.10 186.52 L109.62 186.30 L110.15 186.07 L110.67 185.85 L111.20 185.63 L111.73 185.41 L112.25 185.19 L112.78 184.97 L113.30 184.75 L113.83 184.53 L114.36 184.31 L114.88 184.09 L115.41 183.88 L115.93 183.66 L116.46 183.44 L116.99 183.22 L117.51 183.00 L118.04 182.78 L118.57 182.57 L119.09 182.35 L119.62 182.13 L120.15 181.91 L120.67 181.70 L121.20 181.48 L121.73 181.26 L122.25 181.05 L122.78 180.83 L123.31 180.62 L123.84 180.40 L124.36 180.19 L124.89 179.97 L125.42 179.76 L125.95 179.54 L126.47 179.33 L127.00 179.12 L127.53 178.90 L128.06 178.69 L128.59 178.48 L129.11 178.26 L129.64 178.05 L130.17 177.84 L130.70 177.63 L131.23 177.42 L131.76 177.21 L132.29 177.00 L132.81 176.79 L133.34 176.58 L133.87 176.37 L134.40 176.16 L134.93 175.95 L135.46 175.74 L135.99 175.54 L136.52 175.33 L137.05 175.12 L137.58 174.91 L138.11 174.71 L138.64 174.50 L139.17 174.30 L139.70 174.09 L140.23 173.89 L140.76 173.68 L141.29 173.48 L141.82 173.28 L142.35 173.07 L142.89 172.87 L143.42 172.67 L143.95 172.47 L144.48 172.26 L145.01 172.06 L145.54 171.86 L146.07 171.66 L146.61 171.46 L147.14 171.26 L147.67 171.06 L148.20 170.86 L148.74 170.67 L149.27 170.47 L149.80 170.27 L150.33 170.07 L150.87 169.87 L151.40 169.68 L151.93 169.48 L152.47 169.28 L153.00 169.09 L153.54 168.89 L154.07 168.69 L154.60 168.50 L155.14 168.30 L155.67 168.11 L156.21 167.91 L156.74 167.72 L157.28 167.52 L157.81 167.33 L158.35 167.13 L158.88 166.94 L159.42 166.74 L159.95 166.55 L160.49 166.36 L161.03 166.16 L161.56 165.97 L162.10 165.78 L162.64 165.58 L163.17 165.39 L163.71 165.20 L164.25 165.01 L164.78 164.81 L165.32 164.62 L165.86 164.43 L166.40 164.24 L166.93 164.05 L167.47 163.85 L168.01 163.66 L168.55 163.47 L169.09 163.28 L169.63 163.09 L170.17 162.89 L170.70 162.70 L171.24 162.51 L171.78 162.32 L172.32 162.13 L172.86 161.94 L173.40 161.75 L173.94 161.55 L174.48 161.36 L175.02 161.17 L175.57 160.98 L176.11 160.79 L176.65 160.60 L177.19 160.41 L177.73 160.22 L178.27 160.03 L178.81 159.84 L179.36 159.65 L179.90 159.46 L180.44 159.28 L180.98 159.10 L181.52 158.91 L182.06 158.73 L182.61 158.56 L183.15 158.38 L183.69 158.21 L184.23 158.03 L184.77 157.86 L185.32 157.70 L185.86 157.54 L186.40 157.37 L186.94 157.22 L187.48 157.06 L188.02 156.91 L188.57 156.76 L189.11 156.61 L189.65 156.47 L190.19 156.33 L190.74 156.19 L191.28 156.05 L191.82 155.92 L192.37 155.79 L192.91 155.66 L193.46 155.54 L194.00 155.41 L194.55 155.29 L195.10 155.18 L195.65 155.06 L196.20 154.95 L196.75 154.84 L197.30 154.73 L197.85 154.63 L198.40 154.53 L198.96 154.43 L199.51 154.33 L200.07 154.24 L200.63 154.15 L201.19 154.06 L201.75 153.97 L202.31 153.89 L202.87 153.81 L203.44 153.73 L204.00 153.65 L204.57 153.58 L205.14 153.51 L205.71 153.44 L206.29 153.37 L206.86 153.31 L207.44 153.25 L208.01 153.19 L208.59 153.13 L209.18 153.08 L209.76 153.03 L210.34 152.98 L210.93 152.94 L211.51 152.90 L212.10 152.87 L212.68 152.84 L213.27 152.81 L213.86 152.79 L214.45 152.77 L215.03 152.75 L215.62 152.75 L216.21 152.74 L216.79 152.75 L217.38 152.75 L217.96 152.77 L218.54 152.79 L219.13 152.81 L219.71 152.84 L220.29 152.88 L220.87 152.93 L221.44 152.98 L222.02 153.04 L222.59 153.10 L223.16 153.18 L223.72 153.26 L224.29 153.35 L224.85 153.44 L225.41 153.55 L225.97 153.66 L226.52 153.78 L227.07 153.91 L227.62 154.05 L228.16 154.20 L228.70 154.36 L229.24 154.53 L229.77 154.70 L230.29 154.89 L230.82 155.09 L231.33 155.29 L231.85 155.51 L232.36 155.74 L232.86 155.97 L233.36 156.22 L233.85 156.48 L234.34 156.75 L234.83 157.04 L235.30 157.33 L235.77 157.64 L236.24 157.96 L236.69 158.29 L237.13 158.63 L237.57 158.99 L237.99 159.35 L238.40 159.73 L238.80 160.13 L239.18 160.54 L239.55 160.96 L239.90 161.39 L240.23 161.84 L240.55 162.30 L240.86 162.77 L241.15 163.25 L241.43 163.74 L241.70 164.24 L241.96 164.75 L242.21 165.26 L242.45 165.78 L242.68 166.31 L242.91 166.84 L243.13 167.37 L243.35 167.90 L243.57 168.44 L243.78 168.98 L243.99 169.52 L244.20 170.05 L244.41 170.59 L244.62 171.13 L244.82 171.67 L245.03 172.20 L245.23 172.74 L245.44 173.28 L245.64 173.82 L245.84 174.35 L246.04 174.89 L246.24 175.43 L246.44 175.97 L246.64 176.50 L246.83 177.04 L247.03 177.58 L247.22 178.12 L247.42 178.65 L247.61 179.19 L247.80 179.73 L247.99 180.27 L248.18 180.81 L248.37 181.34 L248.56 181.88 L248.75 182.42 L248.94 182.96 L249.13 183.49 L249.31 184.03 L249.50 184.57 L249.69 185.11 L249.87 185.65 L250.05 186.19 L250.24 186.72 L250.42 187.26 L250.61 187.80 L250.79 188.34 L250.97 188.88 L251.15 189.42 L251.33 189.96 L251.52 190.50 L251.70 191.03 L251.88 191.57 L252.06 192.11 L252.24 192.65 L252.42 193.19 L252.60 193.73 L252.78 194.27 L252.96 194.81 L253.14 195.35 L253.32 195.89 L253.50 196.43 L253.68 196.97 L253.86 197.51 L254.04 198.06 L254.22 198.60 L254.39 199.14 L254.57 199.68 L254.74 200.22 L254.92 200.77 L255.09 201.31 L255.26 201.85 L255.43 202.40 L255.59 202.94 L255.76 203.49 L255.92 204.04 L256.08 204.58 L256.24 205.13 L256.39 205.68 L256.54 206.23 L256.69 206.78 L256.83 207.33 L256.97 207.88 L257.11 208.43 L257.24 208.99 L257.37 209.54 L257.50 210.10 L257.62 210.65 L257.74 211.21 L257.86 211.77 L257.97 212.33 L258.08 212.89 L258.19 213.45 L258.29 214.01 L258.39 214.57 L258.49 215.13 L258.59 215.69 L258.68 216.26 L258.77 216.82 L258.86 217.39 L258.95 217.95 L259.03 218.52 L259.11 219.08 L259.19 219.65 L259.27 220.22 L259.34 220.78 L259.41 221.35 L259.48 221.92 L259.55 222.49 L259.62 223.06 L259.69 223.62 L259.75 224.19 L259.82 224.76 L259.88 225.33 L259.94 225.90 L260.00 226.47 L260.06 227.04 L260.12 227.61 L260.17 228.18 L260.23 228.75 L260.28 229.32 L260.34 229.89 L260.39 230.46 L260.45 231.03 L260.50 231.60 L260.55 232.17 L260.61 232.74 L260.66 233.30 L260.71 233.87 L260.76 234.44 L260.81 235.01 L260.87 235.58 L260.92 236.14 L260.97 236.71 L261.03 237.28 L261.08 237.85 L261.14 238.41 L261.19 238.98 L261.25 239.54 L261.30 240.11 L261.36 240.67 L261.42 241.23 L261.48 241.80 L261.54 242.36 L261.60 242.92 L261.67 243.48 L261.73 244.04 L261.80 244.60" stroke="#0000ff" stroke-dasharray="1.2 1.9" stroke-width="1.5"/>
<path d="M77.65 244.31 L77.80 243.54 L77.95 242.77 L78.09 242.00 L78.24 241.23 L78.39 240.46 L78.54 239.69 L78.69 238.92 L78.84 238.15 L78.99 237.38 L79.15 236.62 L79.30 235.85 L79.45 235.08 L79.61 234.31 L79.77 233.54 L79.92 232.77 L80.08 232.00 L80.24 231.24 L80.39 230.47 L80.55 229.70 L80.71 228.93 L80.87 228.17 L81.03 227.40 L81.20 226.63 L81.36 225.86 L81.52 225.10 L81.69 224.33 L81.85 223.57 L82.02 222.80 L82.18 222.03 L82.35 221.27 L82.52 220.50 L82.69 219.74 L82.86 218.97 L83.03 218.21 L83.20 217.44 L83.37 216.68 L83.54 215.91 L83.71 215.15 L83.89 214.38 L84.06 213.62 L84.24 212.85 L84.41 212.09 L84.59 211.33 L84.77 210.56 L84.94 209.80 L85.12 209.04 L85.30 208.27 L85.48 207.51 L85.66 206.75 L85.85 205.99 L86.03 205.22 L86.21 204.46 L86.40 203.70 L86.58 202.94 L86.77 202.18 L86.95 201.42 L87.14 200.66 L87.33 199.90 L87.52 199.14 L87.71 198.38 L87.90 197.62 L88.09 196.86 L88.28 196.10 L88.47 195.34 L88.67 194.58 L88.86 193.82 L89.06 193.06 L89.25 192.30 L89.45 191.54 L89.65 190.78 L89.84 190.03 L90.04 189.27 L90.24 188.51 L90.44 187.75 L90.64 187.00 L90.85 186.24 L91.05 185.48 L91.25 184.73 L91.46 183.97 L91.66 183.22 L91.87 182.46 L92.08 181.70 L92.28 180.95 L92.49 180.19 L92.70 179.44 L92.91 178.68 L93.12 177.93 L93.33 177.18 L93.55 176.42 L93.76 175.67 L93.97 174.92 L94.19 174.16 L94.40 173.41 L94.62 172.66 L94.84 171.90 L95.06 171.15 L95.27 170.40 L95.49 169.65 L95.72 168.90 L95.94 168.15 L96.16 167.40 L96.38 166.64 L96.61 165.89 L96.83 165.14 L97.06 164.39 L97.28 163.64 L97.51 162.90 L97.74 162.15 L97.97 161.40 L98.20 160.65 L98.43 159.90 L98.66 159.15 L98.89 158.40 L99.12 157.66 L99.36 156.91 L99.59 156.16 L99.83 155.42 L100.07 154.67 L100.31 153.93 L100.55 153.18 L100.79 152.44 L101.03 151.69 L101.28 150.95 L101.53 150.21 L101.77 149.46 L102.02 148.72 L102.27 147.98 L102.53 147.24 L102.78 146.50 L103.04 145.76 L103.29 145.02 L103.55 144.28 L103.81 143.54 L104.08 142.81 L104.34 142.07 L104.61 141.33 L104.88 140.60 L105.15 139.86 L105.42 139.13 L105.70 138.40 L105.98 137.67 L106.26 136.93 L106.54 136.20 L106.83 135.47 L107.11 134.75 L107.40 134.02 L107.70 133.29 L107.99 132.57 L108.29 131.84 L108.59 131.12 L108.89 130.39 L109.20 129.67 L109.50 128.95 L109.81 128.23 L110.13 127.51 L110.45 126.79 L110.76 126.08 L111.09 125.36 L111.41 124.65 L111.74 123.93 L112.07 123.22 L112.41 122.51 L112.75 121.80 L113.09 121.09 L113.43 120.38 L113.78 119.68 L114.13 118.97 L114.49 118.27 L114.85 117.57 L115.21 116.87 L115.58 116.17 L115.94 115.47 L116.32 114.77 L116.69 114.08 L117.07 113.38 L117.46 112.69 L117.85 112.00 L118.24 111.31 L118.63 110.62 L119.03 109.93 L119.44 109.24 L119.85 108.56 L120.26 107.88 L120.67 107.20 L121.10 106.52 L121.52 105.85 L121.96 105.18 L122.40 104.52 L122.85 103.87 L123.31 103.23 L123.78 102.61 L124.26 101.99 L124.76 101.39 L125.26 100.81 L125.79 100.24 L126.32 99.70 L126.87 99.17 L127.44 98.67 L128.02 98.19 L128.62 97.73 L129.24 97.30 L129.87 96.89 L130.52 96.51 L131.18 96.15 L131.86 95.82 L132.54 95.51 L133.24 95.23 L133.95 94.97 L134.67 94.74 L135.40 94.54 L136.14 94.36 L136.89 94.21 L137.64 94.08 L138.39 93.99 L139.16 93.91 L139.93 93.86 L140.70 93.83 L141.48 93.83 L142.26 93.84 L143.04 93.88 L143.83 93.93 L144.62 94.00 L145.41 94.09 L146.20 94.19 L147.00 94.30 L147.80 94.43 L148.59 94.57 L149.39 94.72 L150.19 94.88 L150.98 95.05 L151.78 95.22 L152.57 95.41 L153.36 95.59 L154.15 95.78 L154.93 95.98 L155.72 96.17 L156.50 96.37 L157.27 96.56 L158.05 96.76 L158.82 96.96 L159.58 97.17 L160.35 97.37 L161.11 97.58 L161.87 97.78 L162.63 97.99 L163.38 98.20 L164.14 98.41 L164.89 98.62 L165.63 98.84 L166.38 99.05 L167.13 99.27 L167.87 99.48 L168.61 99.70 L169.35 99.92 L170.09 100.15 L170.83 100.37 L171.57 100.59 L172.30 100.82 L173.04 101.04 L173.77 101.27 L174.51 101.50 L175.24 101.73 L175.97 101.96 L176.71 102.19 L177.44 102.43 L178.17 102.66 L178.90 102.90 L179.64 103.14 L180.37 103.38 L181.10 103.62 L181.84 103.86 L182.57 104.10 L183.30 104.34 L184.04 104.59 L184.78 104.83 L185.51 105.08 L186.25 105.33 L186.99 105.57 L187.73 105.82 L188.48 106.07 L189.22 106.33 L189.96 106.58 L190.71 106.83 L191.46 107.09 L192.20 107.35 L192.95 107.61 L193.70 107.87 L194.45 108.13 L195.20 108.40 L195.94 108.67 L196.69 108.94 L197.44 109.21 L198.19 109.48 L198.93 109.76 L199.68 110.04 L200.42 110.33 L201.17 110.62 L201.91 110.91 L202.65 111.20 L203.39 111.50 L204.12 111.80 L204.86 112.10 L205.59 112.41 L206.32 112.72 L207.05 113.04 L207.78 113.36 L208.50 113.69 L209.22 114.02 L209.94 114.35 L210.65 114.69 L211.36 115.03 L212.07 115.38 L212.77 115.74 L213.47 116.10 L214.17 116.46 L214.86 116.83 L215.55 117.21 L216.23 117.59 L216.91 117.97 L217.58 118.37 L218.25 118.77 L218.92 119.17 L219.58 119.58 L220.23 120.00 L220.88 120.42 L221.52 120.85 L222.16 121.29 L222.79 121.74 L223.42 122.19 L224.04 122.65 L224.65 123.11 L225.25 123.59 L225.85 124.07 L226.45 124.56 L227.03 125.05 L227.61 125.56 L228.18 126.07 L228.75 126.59 L229.30 127.12 L229.85 127.65 L230.39 128.20 L230.93 128.75 L231.45 129.32 L231.97 129.89 L232.47 130.47 L232.97 131.06 L233.46 131.66 L233.95 132.26 L234.42 132.88 L234.89 133.50 L235.34 134.14 L235.79 134.78 L236.24 135.42 L236.67 136.08 L237.10 136.74 L237.52 137.40 L237.94 138.07 L238.35 138.75 L238.75 139.43 L239.15 140.12 L239.54 140.81 L239.93 141.51 L240.31 142.21 L240.69 142.92 L241.06 143.62 L241.43 144.33 L241.79 145.05 L242.15 145.76 L242.51 146.48 L242.86 147.20 L243.21 147.92 L243.56 148.64 L243.90 149.36 L244.24 150.09 L244.58 150.81 L244.92 151.53 L245.25 152.25 L245.58 152.98 L245.92 153.70 L246.24 154.41 L246.57 155.13 L246.90 155.85 L247.22 156.57 L247.54 157.29 L247.86 158.00 L248.18 158.72 L248.49 159.43 L248.80 160.15 L249.11 160.87 L249.42 161.58 L249.72 162.30 L250.03 163.02 L250.32 163.73 L250.62 164.45 L250.91 165.17 L251.20 165.89 L251.49 166.61 L251.77 167.33 L252.05 168.06 L252.32 168.78 L252.60 169.51 L252.87 170.23 L253.13 170.96 L253.39 171.69 L253.65 172.42 L253.90 173.16 L254.15 173.89 L254.40 174.63 L254.64 175.36 L254.88 176.10 L255.11 176.84 L255.34 177.59 L255.57 178.33 L255.80 179.08 L256.02 179.82 L256.24 180.57 L256.45 181.32 L256.67 182.07 L256.87 182.82 L257.08 183.57 L257.28 184.33 L257.48 185.08 L257.68 185.84 L257.87 186.59 L258.06 187.35 L258.25 188.11 L258.44 188.87 L258.62 189.63 L258.80 190.40 L258.98 191.16 L259.16 191.92 L259.33 192.69 L259.50 193.45 L259.67 194.22 L259.83 194.99 L260.00 195.76 L260.16 196.53 L260.32 197.30 L260.47 198.07 L260.63 198.84 L260.78 199.61 L260.93 200.38 L261.08 201.16 L261.23 201.93 L261.37 202.70 L261.51 203.48 L261.65 204.25 L261.79 205.03 L261.93 205.81 L262.07 206.58 L262.20 207.36 L262.34 208.14 L262.47 208.91 L262.60 209.69 L262.73 210.47 L262.85 211.25 L262.98 212.03 L263.11 212.81 L263.23 213.59 L263.35 214.36 L263.47 215.14 L263.59 215.92 L263.71 216.70 L263.83 217.48 L263.95 218.26 L264.07 219.04 L264.18 219.82 L264.30 220.60 L264.41 221.38 L264.53 222.16 L264.64 222.94 L264.75 223.72 L264.86 224.49 L264.98 225.27 L265.09 226.05 L265.20 226.83 L265.31 227.61 L265.42 228.38 L265.53 229.16 L265.64 229.94 L265.75 230.71 L265.86 231.49 L265.97 232.26 L266.08 233.04 L266.19 233.81 L266.30 234.58 L266.41 235.36 L266.52 236.13 L266.63 236.90 L266.74 237.67 L266.85 238.44 L266.96 239.21 L267.08 239.98 L267.19 240.75 L267.30 241.51 L267.41 242.28 L267.53 243.05 L267.64 243.81 L267.76 244.57" stroke="#00008b"  stroke-width="1.5"/>
<path d="M55.02 140.32 L55.62 140.06 L56.22 139.81 L56.83 139.55 L57.43 139.29 L58.03 139.04 L58.64 138.78 L59.24 138.52 L59.84 138.26 L60.45 138.00 L61.05 137.74 L61.65 137.49 L62.26 137.23 L62.86 136.97 L63.46 136.71 L64.07 136.45 L64.67 136.19 L65.27 135.93 L65.87 135.67 L66.48 135.41 L67.08 135.14 L67.68 134.88 L68.28 134.62 L68.89 134.36 L69.49 134.10 L70.09 133.84 L70.70 133.57 L71.30 133.31 L71.90 133.05 L72.50 132.79 L73.11 132.53 L73.71 132.26 L74.31 132.00 L74.91 131.74 L75.52 131.47 L76.12 131.21 L76.72 130.95 L77.32 130.69 L77.93 130.42 L78.53 130.16 L79.13 129.90 L79.73 129.63 L80.34 129.37 L80.94 129.11 L81.54 128.84 L82.14 128.58 L82.75 128.32 L83.35 128.05 L83.95 127.79 L84.55 127.52 L85.16 127.26 L85.76 127.00 L86.36 126.73 L86.96 126.47 L87.57 126.21 L88.17 125.94 L88.77 125.68 L89.38 125.42 L89.98 125.15 L90.58 124.89 L91.18 124.63 L91.79 124.36 L92.39 124.10 L92.99 123.84 L93.60 123.58 L94.20 123.31 L94.80 123.05 L95.41 122.79 L96.01 122.53 L96.61 122.26 L97.22 122.00 L97.82 121.74 L98.42 121.48 L99.03 121.22 L99.63 120.96 L100.24 120.69 L100.84 120.43 L101.44 120.17 L102.05 119.91 L102.65 119.65 L103.26 119.39 L103.86 119.13 L104.47 118.87 L105.07 118.61 L105.67 118.35 L106.28 118.09 L106.88 117.83 L107.49 117.57 L108.09 117.32 L108.70 117.06 L109.30 116.80 L109.91 116.54 L110.51 116.28 L111.12 116.03 L111.72 115.77 L112.33 115.51 L112.94 115.26 L113.54 115.00 L114.15 114.75 L114.75 114.49 L115.36 114.24 L115.97 113.98 L116.57 113.73 L117.18 113.47 L117.79 113.22 L118.39 112.97 L119.00 112.71 L119.61 112.46 L120.21 112.21 L120.82 111.96 L121.43 111.71 L122.03 111.45 L122.64 111.20 L123.25 110.95 L123.86 110.70 L124.47 110.45 L125.07 110.21 L125.68 109.96 L126.29 109.71 L126.90 109.46 L127.51 109.21 L128.12 108.97 L128.73 108.72 L129.34 108.48 L129.95 108.23 L130.55 107.99 L131.16 107.74 L131.77 107.50 L132.38 107.26 L132.99 107.01 L133.60 106.77 L134.22 106.53 L134.83 106.29 L135.44 106.05 L136.05 105.81 L136.66 105.57 L137.27 105.33 L137.88 105.09 L138.49 104.85 L139.11 104.62 L139.72 104.38 L140.33 104.14 L140.94 103.91 L141.55 103.67 L142.17 103.44 L142.78 103.20 L143.39 102.97 L144.01 102.74 L144.62 102.51 L145.23 102.28 L145.85 102.05 L146.46 101.82 L147.08 101.59 L147.69 101.36 L148.31 101.13 L148.92 100.90 L149.54 100.68 L150.15 100.45 L150.77 100.23 L151.38 100.00 L152.00 99.78 L152.62 99.56 L153.23 99.33 L153.85 99.11 L154.47 98.89 L155.08 98.67 L155.70 98.45 L156.32 98.23 L156.94 98.02 L157.56 97.80 L158.17 97.58 L158.79 97.37 L159.41 97.15 L160.03 96.94 L160.65 96.73 L161.27 96.51 L161.89 96.30 L162.51 96.09 L163.13 95.88 L163.75 95.67 L164.37 95.46 L165.00 95.26 L165.62 95.05 L166.24 94.84 L166.87 94.64 L167.49 94.43 L168.12 94.23 L168.74 94.02 L169.37 93.82 L170.00 93.61 L170.62 93.41 L171.25 93.21 L171.88 93.01 L172.51 92.80 L173.15 92.60 L173.78 92.40 L174.41 92.20 L175.05 92.00 L175.69 91.80 L176.32 91.60 L176.96 91.40 L177.60 91.20 L178.24 91.00 L178.89 90.80 L179.53 90.60 L180.18 90.40 L180.83 90.20 L181.47 90.00 L182.12 89.80 L182.77 89.61 L183.42 89.43 L184.07 89.26 L184.72 89.09 L185.37 88.94 L186.02 88.80 L186.66 88.68 L187.31 88.57 L187.95 88.49 L188.59 88.42 L189.23 88.37 L189.86 88.34 L190.50 88.33 L191.13 88.34 L191.75 88.37 L192.38 88.41 L193.00 88.47 L193.63 88.55 L194.25 88.64 L194.87 88.75 L195.48 88.88 L196.10 89.01 L196.71 89.16 L197.33 89.32 L197.94 89.50 L198.55 89.69 L199.16 89.88 L199.77 90.09 L200.38 90.31 L200.98 90.54 L201.59 90.77 L202.20 91.02 L202.80 91.27 L203.41 91.53 L204.01 91.80 L204.61 92.07 L205.22 92.35 L205.82 92.63 L206.42 92.92 L207.03 93.21 L207.63 93.50 L208.23 93.80 L208.83 94.11 L209.43 94.42 L210.03 94.74 L210.62 95.06 L211.22 95.38 L211.81 95.71 L212.40 96.05 L212.98 96.39 L213.57 96.73 L214.15 97.08 L214.73 97.44 L215.30 97.80 L215.87 98.16 L216.44 98.53 L217.01 98.91 L217.57 99.29 L218.12 99.67 L218.67 100.06 L219.22 100.46 L219.76 100.86 L220.30 101.26 L220.83 101.67 L221.35 102.09 L221.87 102.51 L222.39 102.94 L222.89 103.37 L223.39 103.81 L223.89 104.25 L224.38 104.70 L224.86 105.15 L225.33 105.61 L225.80 106.07 L226.26 106.54 L226.71 107.02 L227.15 107.50 L227.59 107.98 L228.01 108.48 L228.43 108.97 L228.84 109.47 L229.24 109.98 L229.63 110.50 L230.01 111.01 L230.38 111.54 L230.75 112.07 L231.10 112.61 L231.44 113.15 L231.78 113.69 L232.10 114.25 L232.41 114.80 L232.72 115.36 L233.02 115.93 L233.31 116.50 L233.59 117.08 L233.86 117.66 L234.12 118.24 L234.38 118.83 L234.63 119.43 L234.87 120.02 L235.11 120.62 L235.33 121.23 L235.55 121.84 L235.77 122.45 L235.98 123.06 L236.18 123.68 L236.37 124.30 L236.56 124.92 L236.75 125.55 L236.93 126.18 L237.10 126.81 L237.27 127.44 L237.43 128.08 L237.59 128.72 L237.75 129.36 L237.90 130.00 L238.04 130.64 L238.19 131.28 L238.33 131.93 L238.46 132.58 L238.59 133.23 L238.72 133.88 L238.85 134.53 L238.97 135.18 L239.10 135.83 L239.21 136.48 L239.33 137.13 L239.45 137.79 L239.56 138.44 L239.67 139.09 L239.78 139.75 L239.89 140.40 L240.00 141.05 L240.11 141.71 L240.21 142.36 L240.31 143.01 L240.41 143.67 L240.51 144.32 L240.61 144.97 L240.71 145.63 L240.81 146.28 L240.90 146.93 L240.99 147.59 L241.08 148.24 L241.17 148.89 L241.26 149.55 L241.35 150.20 L241.44 150.85 L241.52 151.51 L241.61 152.16 L241.69 152.81 L241.77 153.47 L241.85 154.12 L241.93 154.78 L242.01 155.43 L242.08 156.08 L242.16 156.74 L242.23 157.39 L242.30 158.04 L242.38 158.70 L242.45 159.35 L242.52 160.01 L242.58 160.66 L242.65 161.32 L242.72 161.97 L242.78 162.62 L242.85 163.28 L242.91 163.93 L242.97 164.59 L243.03 165.24 L243.09 165.89 L243.15 166.55 L243.21 167.20 L243.27 167.86 L243.32 168.51 L243.38 169.17 L243.43 169.82 L243.49 170.48 L243.54 171.13 L243.59 171.78 L243.65 172.44 L243.70 173.09 L243.75 173.75 L243.79 174.40 L243.84 175.06 L243.89 175.71 L243.94 176.37 L243.98 177.02 L244.03 177.68 L244.07 178.33 L244.12 178.99 L244.16 179.64 L244.20 180.30 L244.25 180.95 L244.29 181.61 L244.33 182.26 L244.37 182.92 L244.41 183.57 L244.45 184.23 L244.49 184.88 L244.52 185.54 L244.56 186.19 L244.60 186.85 L244.64 187.50 L244.67 188.16 L244.71 188.81 L244.74 189.47 L244.78 190.12 L244.81 190.78 L244.85 191.44 L244.88 192.09 L244.91 192.75 L244.95 193.40 L244.98 194.06 L245.01 194.71 L245.04 195.37 L245.08 196.02 L245.11 196.68 L245.14 197.33 L245.17 197.99 L245.20 198.65 L245.23 199.30 L245.26 199.96 L245.29 200.61 L245.32 201.27 L245.35 201.93 L245.38 202.58 L245.41 203.24 L245.44 203.89 L245.47 204.55 L245.50 205.20 L245.53 205.86 L245.56 206.52 L245.59 207.17 L245.62 207.83 L245.65 208.48 L245.68 209.14 L245.71 209.80 L245.74 210.45 L245.76 211.11 L245.79 211.77 L245.82 212.42 L245.85 213.08 L245.88 213.73 L245.91 214.39 L245.94 215.05 L245.97 215.70 L246.00 216.36 L246.03 217.02 L246.07 217.67 L246.10 218.33 L246.13 218.99 L246.16 219.64 L246.19 220.30 L246.22 220.95 L246.26 221.61 L246.29 222.27 L246.32 222.92 L246.36 223.58 L246.39 224.24 L246.42 224.89 L246.46 225.55 L246.49 226.21 L246.53 226.86 L246.56 227.52 L246.60 228.18 L246.64 228.83 L246.67 229.49 L246.71 230.15 L246.75 230.80 L246.79 231.46 L246.83 232.12 L246.87 232.78 L246.91 233.43 L246.95 234.09 L246.99 234.75 L247.03 235.40 L247.08 236.06 L247.12 236.72 L247.16 237.37 L247.21 238.03 L247.25 238.69 L247.30 239.35 L247.35 240.00 L247.39 240.66 L247.44 241.32 L247.49 241.97 L247.54 242.63 L247.59 243.29 L247.64 243.95 L247.70 244.60" stroke="#00008b" stroke-dasharray="8.8 4.3" stroke-width="1.5"/>
<path d="M54.99 210.48 L55.46 210.27 L55.94 210.06 L56.41 209.86 L56.89 209.65 L57.37 209.44 L57.84 209.23 L58.32 209.03 L58.79 208.82 L59.27 208.61 L59.75 208.41 L60.22 208.20 L60.70 208.00 L61.18 207.79 L61.65 207.59 L62.13 207.39 L62.61 207.18 L63.08 206.98 L63.56 206.78 L64.04 206.57 L64.52 206.37 L64.99 206.17 L65.47 205.97 L65.95 205.77 L66.43 205.57 L66.90 205.37 L67.38 205.17 L67.86 204.96 L68.34 204.76 L68.82 204.57 L69.29 204.37 L69.77 204.17 L70.25 203.97 L70.73 203.77 L71.21 203.57 L71.69 203.37 L72.16 203.17 L72.64 202.97 L73.12 202.78 L73.60 202.58 L74.08 202.38 L74.56 202.18 L75.04 201.99 L75.51 201.79 L75.99 201.59 L76.47 201.39 L76.95 201.20 L77.43 201.00 L77.91 200.80 L78.39 200.61 L78.87 200.41 L79.35 200.21 L79.82 200.02 L80.30 199.82 L80.78 199.62 L81.26 199.43 L81.74 199.23 L82.22 199.03 L82.70 198.84 L83.18 198.64 L83.66 198.44 L84.14 198.25 L84.62 198.05 L85.09 197.86 L85.57 197.66 L86.05 197.46 L86.53 197.27 L87.01 197.07 L87.49 196.87 L87.97 196.68 L88.45 196.48 L88.93 196.28 L89.41 196.08 L89.88 195.89 L90.36 195.69 L90.84 195.49 L91.32 195.29 L91.80 195.10 L92.28 194.90 L92.76 194.70 L93.24 194.50 L93.71 194.30 L94.19 194.11 L94.67 193.91 L95.15 193.71 L95.63 193.51 L96.11 193.31 L96.58 193.11 L97.06 192.91 L97.54 192.71 L98.02 192.51 L98.50 192.31 L98.97 192.11 L99.45 191.91 L99.93 191.71 L100.41 191.51 L100.89 191.30 L101.36 191.10 L101.84 190.90 L102.32 190.70 L102.79 190.49 L103.27 190.29 L103.75 190.09 L104.23 189.88 L104.70 189.68 L105.18 189.47 L105.66 189.27 L106.13 189.06 L106.61 188.86 L107.09 188.65 L107.56 188.45 L108.04 188.24 L108.51 188.03 L108.99 187.83 L109.47 187.62 L109.94 187.41 L110.42 187.20 L110.89 187.00 L111.37 186.79 L111.85 186.58 L112.32 186.37 L112.80 186.17 L113.27 185.96 L113.75 185.75 L114.23 185.54 L114.70 185.34 L115.18 185.13 L115.65 184.92 L116.13 184.72 L116.61 184.51 L117.08 184.30 L117.56 184.10 L118.03 183.89 L118.51 183.68 L118.99 183.48 L119.46 183.27 L119.94 183.07 L120.42 182.86 L120.89 182.66 L121.37 182.45 L121.85 182.25 L122.32 182.05 L122.80 181.84 L123.28 181.64 L123.76 181.44 L124.23 181.24 L124.71 181.04 L125.19 180.84 L125.67 180.64 L126.15 180.44 L126.62 180.24 L127.10 180.04 L127.58 179.84 L128.06 179.65 L128.54 179.45 L129.02 179.26 L129.50 179.06 L129.98 178.87 L130.46 178.68 L130.94 178.49 L131.42 178.29 L131.90 178.10 L132.38 177.92 L132.86 177.73 L133.35 177.54 L133.83 177.35 L134.31 177.17 L134.79 176.98 L135.28 176.80 L135.76 176.62 L136.24 176.44 L136.73 176.26 L137.21 176.08 L137.69 175.90 L138.18 175.72 L138.66 175.55 L139.15 175.37 L139.64 175.20 L140.12 175.03 L140.61 174.86 L141.09 174.69 L141.58 174.52 L142.07 174.35 L142.56 174.18 L143.04 174.02 L143.53 173.85 L144.02 173.69 L144.51 173.52 L145.00 173.36 L145.49 173.20 L145.98 173.03 L146.46 172.87 L146.95 172.71 L147.44 172.55 L147.93 172.38 L148.42 172.22 L148.91 172.06 L149.40 171.89 L149.89 171.73 L150.38 171.56 L150.86 171.40 L151.35 171.23 L151.84 171.06 L152.33 170.90 L152.82 170.73 L153.30 170.56 L153.79 170.39 L154.28 170.21 L154.77 170.04 L155.25 169.87 L155.74 169.69 L156.22 169.51 L156.71 169.33 L157.19 169.15 L157.68 168.96 L158.16 168.78 L158.65 168.59 L159.13 168.40 L159.61 168.21 L160.09 168.01 L160.57 167.82 L161.05 167.62 L161.53 167.42 L162.01 167.22 L162.49 167.01 L162.97 166.81 L163.45 166.60 L163.93 166.39 L164.41 166.18 L164.89 165.97 L165.37 165.76 L165.85 165.55 L166.33 165.34 L166.81 165.13 L167.28 164.91 L167.76 164.70 L168.25 164.49 L168.73 164.28 L169.21 164.07 L169.69 163.86 L170.17 163.65 L170.65 163.44 L171.14 163.24 L171.62 163.03 L172.11 162.83 L172.59 162.63 L173.08 162.43 L173.57 162.23 L174.06 162.04 L174.55 161.85 L175.04 161.66 L175.53 161.47 L176.03 161.28 L176.52 161.10 L177.02 160.93 L177.52 160.75 L178.02 160.58 L178.51 160.41 L179.01 160.25 L179.52 160.09 L180.02 159.94 L180.52 159.79 L181.02 159.65 L181.52 159.51 L182.03 159.37 L182.53 159.25 L183.04 159.12 L183.54 159.01 L184.05 158.90 L184.55 158.79 L185.06 158.69 L185.56 158.60 L186.07 158.52 L186.57 158.44 L187.08 158.37 L187.58 158.31 L188.09 158.25 L188.59 158.21 L189.10 158.17 L189.60 158.14 L190.11 158.11 L190.61 158.10 L191.11 158.09 L191.61 158.10 L192.11 158.11 L192.61 158.13 L193.11 158.17 L193.61 158.21 L194.11 158.26 L194.61 158.31 L195.10 158.38 L195.60 158.46 L196.09 158.54 L196.58 158.63 L197.08 158.73 L197.57 158.84 L198.06 158.95 L198.55 159.08 L199.04 159.21 L199.52 159.34 L200.01 159.49 L200.50 159.64 L200.98 159.80 L201.46 159.96 L201.95 160.14 L202.43 160.31 L202.91 160.50 L203.38 160.69 L203.86 160.89 L204.34 161.09 L204.81 161.30 L205.29 161.51 L205.76 161.73 L206.23 161.95 L206.70 162.18 L207.17 162.42 L207.63 162.66 L208.10 162.90 L208.56 163.15 L209.03 163.40 L209.49 163.66 L209.95 163.92 L210.41 164.18 L210.86 164.45 L211.32 164.72 L211.77 165.00 L212.23 165.28 L212.68 165.56 L213.13 165.85 L213.57 166.14 L214.02 166.43 L214.47 166.72 L214.91 167.02 L215.35 167.32 L215.79 167.62 L216.23 167.92 L216.66 168.23 L217.10 168.53 L217.53 168.84 L217.96 169.16 L218.38 169.47 L218.81 169.79 L219.23 170.11 L219.65 170.43 L220.07 170.75 L220.48 171.08 L220.89 171.41 L221.30 171.74 L221.71 172.08 L222.11 172.42 L222.51 172.76 L222.90 173.10 L223.29 173.44 L223.68 173.79 L224.07 174.14 L224.45 174.50 L224.82 174.86 L225.19 175.22 L225.56 175.58 L225.93 175.94 L226.29 176.31 L226.64 176.69 L226.99 177.06 L227.34 177.44 L227.68 177.82 L228.01 178.20 L228.35 178.59 L228.67 178.98 L228.99 179.38 L229.31 179.77 L229.62 180.18 L229.92 180.58 L230.22 180.99 L230.52 181.40 L230.80 181.81 L231.09 182.23 L231.36 182.65 L231.63 183.08 L231.90 183.50 L232.16 183.94 L232.41 184.37 L232.66 184.81 L232.90 185.25 L233.14 185.69 L233.37 186.14 L233.60 186.59 L233.82 187.04 L234.04 187.50 L234.25 187.96 L234.46 188.42 L234.66 188.88 L234.86 189.35 L235.05 189.82 L235.24 190.29 L235.42 190.76 L235.60 191.24 L235.77 191.72 L235.95 192.20 L236.11 192.69 L236.27 193.17 L236.43 193.66 L236.59 194.15 L236.74 194.64 L236.88 195.14 L237.02 195.63 L237.16 196.13 L237.30 196.63 L237.43 197.14 L237.56 197.64 L237.68 198.15 L237.80 198.66 L237.92 199.16 L238.03 199.68 L238.15 200.19 L238.25 200.70 L238.36 201.22 L238.46 201.74 L238.56 202.25 L238.66 202.77 L238.75 203.29 L238.84 203.82 L238.93 204.34 L239.01 204.86 L239.10 205.39 L239.18 205.92 L239.26 206.44 L239.33 206.97 L239.41 207.50 L239.48 208.03 L239.55 208.56 L239.62 209.09 L239.68 209.63 L239.75 210.16 L239.81 210.69 L239.87 211.23 L239.93 211.76 L239.99 212.29 L240.04 212.83 L240.10 213.36 L240.15 213.90 L240.20 214.44 L240.26 214.97 L240.31 215.51 L240.35 216.04 L240.40 216.58 L240.45 217.12 L240.49 217.65 L240.54 218.19 L240.58 218.72 L240.63 219.26 L240.67 219.79 L240.71 220.33 L240.76 220.86 L240.80 221.40 L240.84 221.93 L240.88 222.46 L240.92 222.99 L240.97 223.53 L241.01 224.06 L241.05 224.59 L241.09 225.12 L241.13 225.64 L241.18 226.17 L241.22 226.70 L241.26 227.22 L241.30 227.75 L241.35 228.27 L241.39 228.79 L241.44 229.31 L241.49 229.83 L241.53 230.35 L241.58 230.87 L241.63 231.39 L241.68 231.90 L241.73 232.41 L241.78 232.92 L241.84 233.43 L241.89 233.94 L241.95 234.45 L242.01 234.95 L242.07 235.45 L242.13 235.95 L242.19 236.45 L242.26 236.95 L242.33 237.45 L242.39 237.94 L242.46 238.43 L242.54 238.92 L242.61 239.40 L242.69 239.89 L242.77 240.37 L242.85 240.85 L242.93 241.32 L243.02 241.80 L243.11 242.27 L243.20 242.74 L243.30 243.21 L243.39 243.67 L243.50 244.13 L243.60 244.59" stroke="#00008b" stroke-dasharray="1.2 1.9" stroke-width="1.5"/>
</g>
<rect x="55.0" y="17.5" width="264.50" height="227.40" fill="none" stroke="#000" stroke-width="0.6"/>
<path d="M55.00 244.9 v-4.6 M55.00 17.5 v4.6 M69.69 244.9 v-2.3 M69.69 17.5 v2.3 M84.39 244.9 v-2.3 M84.39 17.5 v2.3 M99.08 244.9 v-2.3 M99.08 17.5 v2.3 M113.78 244.9 v-4.6 M113.78 17.5 v4.6 M128.47 244.9 v-2.3 M128.47 17.5 v2.3 M143.17 244.9 v-2.3 M143.17 17.5 v2.3 M157.86 244.9 v-2.3 M157.86 17.5 v2.3 M172.56 244.9 v-4.6 M172.56 17.5 v4.6 M187.25 244.9 v-2.3 M187.25 17.5 v2.3 M201.94 244.9 v-2.3 M201.94 17.5 v2.3 M216.64 244.9 v-2.3 M216.64 17.5 v2.3 M231.33 244.9 v-4.6 M231.33 17.5 v4.6 M246.03 244.9 v-2.3 M246.03 17.5 v2.3 M260.72 244.9 v-2.3 M260.72 17.5 v2.3 M275.42 244.9 v-2.3 M275.42 17.5 v2.3 M290.11 244.9 v-4.6 M290.11 17.5 v4.6 M304.81 244.9 v-2.3 M304.81 17.5 v2.3 M319.50 244.9 v-2.3 M319.50 17.5 v2.3 M55.0 244.90 h5.3 M319.5 244.90 h-5.3 M55.0 241.40 h2.6 M319.5 241.40 h-2.6 M55.0 237.90 h2.6 M319.5 237.90 h-2.6 M55.0 234.40 h2.6 M319.5 234.40 h-2.6 M55.0 230.91 h2.6 M319.5 230.91 h-2.6 M55.0 227.41 h2.6 M319.5 227.41 h-2.6 M55.0 223.91 h2.6 M319.5 223.91 h-2.6 M55.0 220.41 h2.6 M319.5 220.41 h-2.6 M55.0 216.91 h2.6 M319.5 216.91 h-2.6 M55.0 213.41 h2.6 M319.5 213.41 h-2.6 M55.0 209.92 h5.3 M319.5 209.92 h-5.3 M55.0 206.42 h2.6 M319.5 206.42 h-2.6 M55.0 202.92 h2.6 M319.5 202.92 h-2.6 M55.0 199.42 h2.6 M319.5 199.42 h-2.6 M55.0 195.92 h2.6 M319.5 195.92 h-2.6 M55.0 192.42 h2.6 M319.5 192.42 h-2.6 M55.0 188.92 h2.6 M319.5 188.92 h-2.6 M55.0 185.43 h2.6 M319.5 185.43 h-2.6 M55.0 181.93 h2.6 M319.5 181.93 h-2.6 M55.0 178.43 h2.6 M319.5 178.43 h-2.6 M55.0 174.93 h5.3 M319.5 174.93 h-5.3 M55.0 171.43 h2.6 M319.5 171.43 h-2.6 M55.0 167.93 h2.6 M319.5 167.93 h-2.6 M55.0 164.44 h2.6 M319.5 164.44 h-2.6 M55.0 160.94 h2.6 M319.5 160.94 h-2.6 M55.0 157.44 h2.6 M319.5 157.44 h-2.6 M55.0 153.94 h2.6 M319.5 153.94 h-2.6 M55.0 150.44 h2.6 M319.5 150.44 h-2.6 M55.0 146.94 h2.6 M319.5 146.94 h-2.6 M55.0 143.44 h2.6 M319.5 143.44 h-2.6 M55.0 139.95 h5.3 M319.5 139.95 h-5.3 M55.0 136.45 h2.6 M319.5 136.45 h-2.6 M55.0 132.95 h2.6 M319.5 132.95 h-2.6 M55.0 129.45 h2.6 M319.5 129.45 h-2.6 M55.0 125.95 h2.6 M319.5 125.95 h-2.6 M55.0 122.45 h2.6 M319.5 122.45 h-2.6 M55.0 118.96 h2.6 M319.5 118.96 h-2.6 M55.0 115.46 h2.6 M319.5 115.46 h-2.6 M55.0 111.96 h2.6 M319.5 111.96 h-2.6 M55.0 108.46 h2.6 M319.5 108.46 h-2.6 M55.0 104.96 h5.3 M319.5 104.96 h-5.3 M55.0 101.46 h2.6 M319.5 101.46 h-2.6 M55.0 97.96 h2.6 M319.5 97.96 h-2.6 M55.0 94.47 h2.6 M319.5 94.47 h-2.6 M55.0 90.97 h2.6 M319.5 90.97 h-2.6 M55.0 87.47 h2.6 M319.5 87.47 h-2.6 M55.0 83.97 h2.6 M319.5 83.97 h-2.6 M55.0 80.47 h2.6 M319.5 80.47 h-2.6 M55.0 76.97 h2.6 M319.5 76.97 h-2.6 M55.0 73.48 h2.6 M319.5 73.48 h-2.6 M55.0 69.98 h5.3 M319.5 69.98 h-5.3 M55.0 66.48 h2.6 M319.5 66.48 h-2.6 M55.0 62.98 h2.6 M319.5 62.98 h-2.6 M55.0 59.48 h2.6 M319.5 59.48 h-2.6 M55.0 55.98 h2.6 M319.5 55.98 h-2.6 M55.0 52.48 h2.6 M319.5 52.48 h-2.6 M55.0 48.99 h2.6 M319.5 48.99 h-2.6 M55.0 45.49 h2.6 M319.5 45.49 h-2.6 M55.0 41.99 h2.6 M319.5 41.99 h-2.6 M55.0 38.49 h2.6 M319.5 38.49 h-2.6 M55.0 34.99 h5.3 M319.5 34.99 h-5.3 M55.0 31.49 h2.6 M319.5 31.49 h-2.6 M55.0 28.00 h2.6 M319.5 28.00 h-2.6 M55.0 24.50 h2.6 M319.5 24.50 h-2.6 M55.0 21.00 h2.6 M319.5 21.00 h-2.6 M55.0 17.50 h2.6 M319.5 17.50 h-2.6" stroke="#000" stroke-width="0.6" fill="none"/>
<g class="t">
<text x="52.4" y="213.82" font-size="10.45" text-anchor="end">-15</text>
<text x="52.4" y="179.33" font-size="10.45" text-anchor="end">-14</text>
<text x="52.4" y="143.75" font-size="10.45" text-anchor="end">-13</text>
<text x="52.4" y="109.26" font-size="10.45" text-anchor="end">-12</text>
<text x="52.4" y="73.78" font-size="10.45" text-anchor="end">-11</text>
<text x="52.4" y="38.59" font-size="10.45" text-anchor="end">-10</text>
<text x="52.4" y="245.20" font-size="10.45" text-anchor="end">-16</text>
<text x="55.00" y="258" font-size="10.45" text-anchor="middle">6</text>
<text x="113.78" y="258" font-size="10.45" text-anchor="middle">8</text>
<text x="172.56" y="258" font-size="10.45" text-anchor="middle">10</text>
<text x="231.33" y="258" font-size="10.45" text-anchor="middle">12</text>
<text x="290.11" y="258" font-size="10.45" text-anchor="middle">14</text>
<text x="187.6" y="268.9" font-size="10.45" text-anchor="middle">Log<tspan font-size="6.7" dy="2.5">10</tspan><tspan dy="-2.5"> </tspan><tspan font-style="italic">E</tspan> [eV]</text>
<text transform="translate(30,131) rotate(-90)" font-size="10.45" text-anchor="middle">Log<tspan font-size="6.7" dy="2.5">10</tspan><tspan dy="-2.5"> </tspan><tspan font-style="italic">E</tspan><tspan font-size="6.6" dy="-4" >2</tspan><tspan dy="4"> dN/d</tspan><tspan font-style="italic">E</tspan> [erg cm<tspan font-size="6.6" dy="-4" >-2</tspan><tspan dy="4"> s</tspan><tspan font-size="6.6" dy="-4" >-1</tspan><tspan dy="4">]</tspan></text>
<text x="118.0" y="38.7" font-size="10.45">IC - K<tspan font-size="7.4" dy="2.7" dx="-0.5" >ep</tspan><tspan dy="-2.7"> = 10</tspan><tspan font-size="6.6" dy="-4" >-2</tspan></text>
<text x="118.0" y="49.2" font-size="10.45">IC - K<tspan font-size="7.4" dy="2.7" dx="-0.5" >ep</tspan><tspan dy="-2.7"> = 10</tspan><tspan font-size="6.6" dy="-4" >-5</tspan></text>
<text x="118.0" y="59.7" font-size="10.45">Pion decay</text>
<path d="M71.6 35.6 H111.2" stroke="#000" stroke-width="1.4" stroke-dasharray="8.8 4.4" fill="none"/>
<path d="M71.4 46.1 H111.2" stroke="#000" stroke-width="1.4" stroke-dasharray="1.1 2.0" fill="none"/>
<path d="M71.6 56.6 H111.2" stroke="#000" stroke-width="1.4" fill="none"/>
<text x="257" y="39.00" font-size="10.45" text-anchor="end">50 yr</text>
<path d="M263.25 35.60 H302.75" stroke="#ff0000" stroke-width="1.3" fill="none"/>
<text x="257" y="49.50" font-size="10.45" text-anchor="end">500 yr</text>
<path d="M263.25 46.10 H302.75" stroke="#008000" stroke-width="1.3" fill="none"/>
<text x="257" y="60.00" font-size="10.45" text-anchor="end">1000 yr</text>
<path d="M263.25 56.60 H302.75" stroke="#0000ff" stroke-width="1.3" fill="none"/>
<text x="257" y="70.50" font-size="10.45" text-anchor="end">10000 yr</text>
<path d="M263.25 67.10 H302.75" stroke="#00008b" stroke-width="1.3" fill="none"/>
<text x="254.9" y="87.2" font-size="10.45" word-spacing="-0.4">n = 0.1 cm<tspan font-size="6.6" dy="-4" >-3</tspan></text>
<text x="61.2" y="111.9" font-size="10.45">K<tspan font-size="7.4" dy="2.7" dx="-0.5" >ep</tspan><tspan dy="-2.7"> = 10</tspan><tspan font-size="6.6" dy="-4" >-2</tspan></text>
<text x="143.4" y="192.6" font-size="10.45">K<tspan font-size="7.4" dy="2.7" dx="-0.5" >ep</tspan><tspan dy="-2.7"> = 10</tspan><tspan font-size="6.6" dy="-4" >-5</tspan></text>
</g></svg></body></html>
